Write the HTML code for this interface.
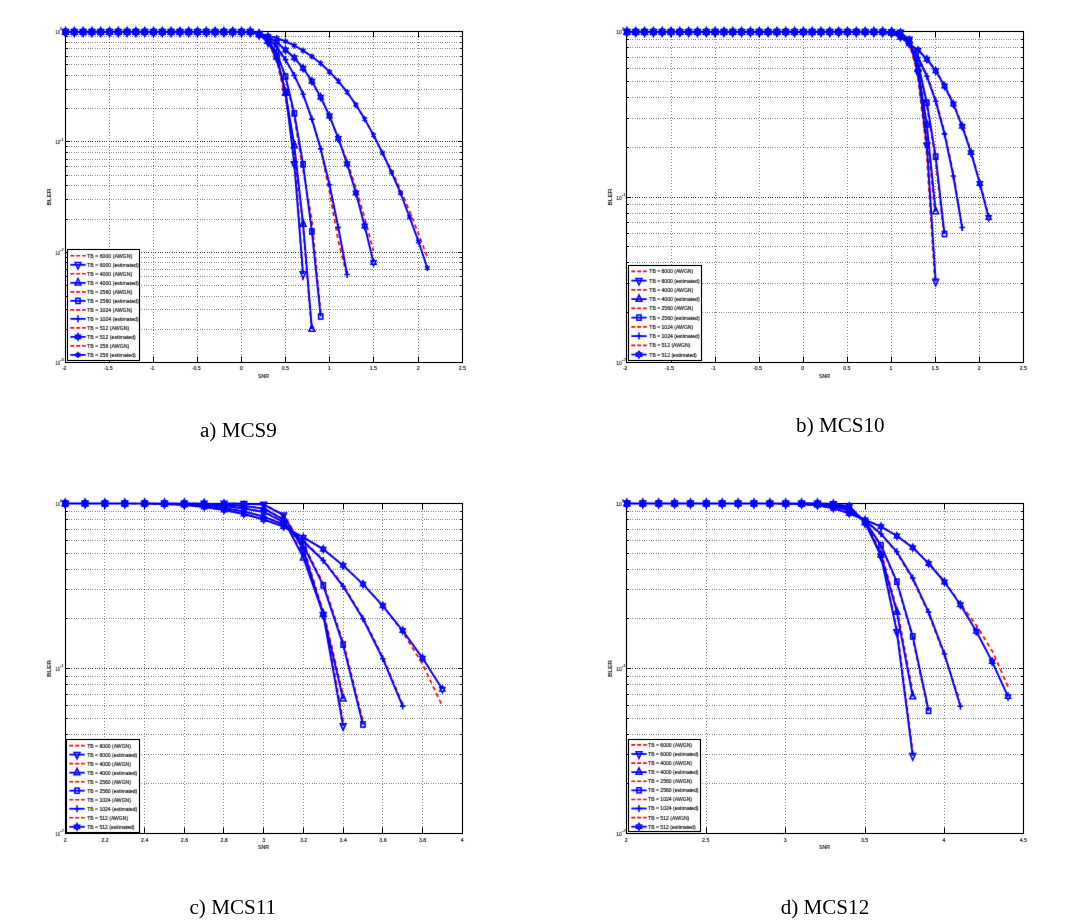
<!DOCTYPE html>
<html><head><meta charset="utf-8"><title>BLER curves</title>
<style>html,body{margin:0;padding:0;background:#fff}svg{display:block}</style></head><body>
<svg width="1072" height="922" viewBox="0 0 1072 922">
<defs><filter id="id" x="-5%" y="-20%" width="110%" height="140%"><feOffset dx="0" dy="0"/></filter><filter id="bl" x="-2%" y="-2%" width="104%" height="104%" color-interpolation-filters="sRGB"><feConvolveMatrix order="3" kernelMatrix="0.01 0.07 0.01 0.07 0.68 0.07 0.01 0.07 0.01" divisor="1" edgeMode="none" preserveAlpha="false"/></filter></defs>
<rect width="1072" height="922" fill="#fff"/>
<g>
<path d="M109.5 33V362.5M153.5 33V362.5M197.5 33V362.5M241.5 33V362.5M285.5 33V362.5M329.5 33V362.5M373.5 33V362.5M418.5 33V362.5" stroke="#000" stroke-opacity="0.42" stroke-width="1" stroke-dasharray="1 2" fill="none"/>
<path d="M67 108.5H462.5M67 89.5H462.5M67 75.5H462.5M67 64.5H462.5M67 56.5H462.5M67 48.5H462.5M67 42.5H462.5M67 36.5H462.5M67 219.5H462.5M67 199.5H462.5M67 185.5H462.5M67 175.5H462.5M67 166.5H462.5M67 159.5H462.5M67 152.5H462.5M67 146.5H462.5M67 329.5H462.5M67 309.5H462.5M67 296.5H462.5M67 285.5H462.5M67 276.5H462.5M67 269.5H462.5M67 262.5H462.5M67 257.5H462.5" stroke="#000" stroke-opacity="0.42" stroke-width="1" stroke-dasharray="1 1 1 1 1 2" fill="none"/>
<path d="M67 141.5H462.5M67 252.5H462.5" stroke="#000" stroke-opacity="0.72" stroke-width="1" stroke-dasharray="1 1 1 1 1 2" fill="none"/>
<rect x="65.5" y="31.5" width="397" height="331" fill="none" stroke="#000" stroke-width="1.15"/>
<path d="M65.5 362.5v-6M65.5 31.5v6M109.5 362.5v-6M109.5 31.5v6M153.5 362.5v-6M153.5 31.5v6M197.5 362.5v-6M197.5 31.5v6M241.5 362.5v-6M241.5 31.5v6M285.5 362.5v-6M285.5 31.5v6M329.5 362.5v-6M329.5 31.5v6M373.5 362.5v-6M373.5 31.5v6M418.5 362.5v-6M418.5 31.5v6M462.5 362.5v-6M462.5 31.5v6M65.5 31.5h4.5M462.5 31.5h-4.5M65.5 141.5h4.5M462.5 141.5h-4.5M65.5 108.5h2.2M462.5 108.5h-2.2M65.5 89.5h2.2M462.5 89.5h-2.2M65.5 75.5h2.2M462.5 75.5h-2.2M65.5 64.5h2.2M462.5 64.5h-2.2M65.5 56.5h2.2M462.5 56.5h-2.2M65.5 48.5h2.2M462.5 48.5h-2.2M65.5 42.5h2.2M462.5 42.5h-2.2M65.5 36.5h2.2M462.5 36.5h-2.2M65.5 252.5h4.5M462.5 252.5h-4.5M65.5 219.5h2.2M462.5 219.5h-2.2M65.5 199.5h2.2M462.5 199.5h-2.2M65.5 185.5h2.2M462.5 185.5h-2.2M65.5 175.5h2.2M462.5 175.5h-2.2M65.5 166.5h2.2M462.5 166.5h-2.2M65.5 159.5h2.2M462.5 159.5h-2.2M65.5 152.5h2.2M462.5 152.5h-2.2M65.5 146.5h2.2M462.5 146.5h-2.2M65.5 362.5h4.5M462.5 362.5h-4.5M65.5 329.5h2.2M462.5 329.5h-2.2M65.5 309.5h2.2M462.5 309.5h-2.2M65.5 296.5h2.2M462.5 296.5h-2.2M65.5 285.5h2.2M462.5 285.5h-2.2M65.5 276.5h2.2M462.5 276.5h-2.2M65.5 269.5h2.2M462.5 269.5h-2.2M65.5 262.5h2.2M462.5 262.5h-2.2M65.5 257.5h2.2M462.5 257.5h-2.2" stroke="#000" stroke-width="1" fill="none"/>
<g filter="url(#bl)">
<g font-family="'Liberation Sans', sans-serif" font-size="6.2" fill="#000" stroke="#000" stroke-width="0.15" text-anchor="middle">
<text transform="translate(64.2 369.7) scale(0.84 1)">-2</text>
<text transform="translate(108.2 369.7) scale(0.84 1)">-1.5</text>
<text transform="translate(152.2 369.7) scale(0.84 1)">-1</text>
<text transform="translate(196.2 369.7) scale(0.84 1)">-0.5</text>
<text transform="translate(241.3 369.7) scale(0.84 1)">0</text>
<text transform="translate(285.3 369.7) scale(0.84 1)">0.5</text>
<text transform="translate(329.3 369.7) scale(0.84 1)">1</text>
<text transform="translate(373.3 369.7) scale(0.84 1)">1.5</text>
<text transform="translate(418.3 369.7) scale(0.84 1)">2</text>
<text transform="translate(462.3 369.7) scale(0.84 1)">2.5</text>
<text transform="translate(263.5 377.6) scale(0.84 1)">SNR</text>
</g>
<g font-family="'Liberation Sans', sans-serif" fill="#000" stroke="#000" stroke-width="0.1">
<text x="59.9" y="34.1" font-size="5.4" text-anchor="end" textLength="4.3" lengthAdjust="spacingAndGlyphs">10</text>
<text x="60.1" y="30.3" font-size="3.6" textLength="2" lengthAdjust="spacingAndGlyphs">0</text>
<text x="59.9" y="144.43" font-size="5.4" text-anchor="end" textLength="4.3" lengthAdjust="spacingAndGlyphs">10</text>
<text x="60.1" y="140.63" font-size="3.6" textLength="3.6" lengthAdjust="spacingAndGlyphs">-1</text>
<text x="59.9" y="254.77" font-size="5.4" text-anchor="end" textLength="4.3" lengthAdjust="spacingAndGlyphs">10</text>
<text x="60.1" y="250.97" font-size="3.6" textLength="3.6" lengthAdjust="spacingAndGlyphs">-2</text>
<text x="59.9" y="365.1" font-size="5.4" text-anchor="end" textLength="4.3" lengthAdjust="spacingAndGlyphs">10</text>
<text x="60.1" y="361.3" font-size="3.6" textLength="3.6" lengthAdjust="spacingAndGlyphs">-3</text>
<text transform="translate(50.6 197) rotate(-90)" font-size="5.6" text-anchor="middle" textLength="17" lengthAdjust="spacingAndGlyphs">BLER</text>
</g>
</g>
<g filter="url(#bl)">
<polyline points="250.3,31.9 259.1,34.4 267.9,42 276.7,60.5 285.5,98.5 294.3,149 303.1,283" fill="none" stroke="#ff0000" stroke-width="1.7" stroke-dasharray="4.2 3.2"/>
<polyline points="250,31.9 258.8,34.3 267.6,41 276.4,56.8 285.2,93 294,145.5 302.8,224 311.6,329" fill="none" stroke="#ff0000" stroke-width="1.7" stroke-dasharray="4.2 3.2"/>
<polyline points="250.3,31.9 259.1,34.2 267.9,40 276.7,53 285.5,76.5 294.3,117.4 303.1,170.3 311.9,220.5 320.7,312.5" fill="none" stroke="#ff0000" stroke-width="1.7" stroke-dasharray="4.2 3.2"/>
<polyline points="250.3,31.9 259.1,34 267.9,38.2 276.7,47 285.5,59.6 294.3,75.4 303.1,94.2 311.9,119.1 320.7,148.9 329.5,192 338.3,241 347.1,276" fill="none" stroke="#ff0000" stroke-width="1.7" stroke-dasharray="4.2 3.2"/>
<polyline points="250.3,31.9 259.1,33.8 267.9,36.8 276.7,42.2 285.5,50 294.3,57.8 303.1,68.2 311.9,81.2 320.7,97.2 329.5,116 338.3,138.4 347.1,161 355.9,188 364.7,218 373.5,251" fill="none" stroke="#ff0000" stroke-width="1.7" stroke-dasharray="4.2 3.2"/>
<polyline points="250.3,31.9 259.1,33.6 267.9,35.6 276.7,38.1 285.5,41.4 294.3,45.5 303.1,50.6 311.9,56.5 320.7,63.4 329.5,71.8 338.3,81.2 347.1,92.2 355.9,104.8 364.7,119.1 373.5,135.1 382.5,153 391.5,170 400.5,189.5 409.5,211 418.5,234 427.3,257" fill="none" stroke="#ff0000" stroke-width="1.7" stroke-dasharray="4.2 3.2"/>
<polyline points="250.3,31.9 259.1,34.4 267.9,42 276.7,57.5 285.5,91.5 294.3,164 303.1,274" fill="none" stroke="#0000ff" stroke-width="1.95" stroke-linejoin="round"/>
<g fill="none" stroke="#0000ff" stroke-width="1.6">
<polygon points="62.6,29.7 68.4,29.7 65.5,36.2"/>
<polygon points="71.4,29.7 77.2,29.7 74.3,36.2"/>
<polygon points="80.2,29.7 86,29.7 83.1,36.2"/>
<polygon points="89,29.7 94.8,29.7 91.9,36.2"/>
<polygon points="97.8,29.7 103.6,29.7 100.7,36.2"/>
<polygon points="106.6,29.7 112.4,29.7 109.5,36.2"/>
<polygon points="115.4,29.7 121.2,29.7 118.3,36.2"/>
<polygon points="124.2,29.7 130,29.7 127.1,36.2"/>
<polygon points="133,29.7 138.8,29.7 135.9,36.2"/>
<polygon points="141.8,29.7 147.6,29.7 144.7,36.2"/>
<polygon points="150.6,29.7 156.4,29.7 153.5,36.2"/>
<polygon points="159.4,29.7 165.2,29.7 162.3,36.2"/>
<polygon points="168.2,29.7 174,29.7 171.1,36.2"/>
<polygon points="177,29.7 182.8,29.7 179.9,36.2"/>
<polygon points="185.8,29.7 191.6,29.7 188.7,36.2"/>
<polygon points="194.6,29.7 200.4,29.7 197.5,36.2"/>
<polygon points="203.4,29.7 209.2,29.7 206.3,36.2"/>
<polygon points="212.2,29.7 218,29.7 215.1,36.2"/>
<polygon points="221,29.7 226.8,29.7 223.9,36.2"/>
<polygon points="229.8,29.7 235.6,29.7 232.7,36.2"/>
<polygon points="238.6,29.7 244.4,29.7 241.5,36.2"/>
<polygon points="247.4,29.7 253.2,29.7 250.3,36.2"/>
<polygon points="256.2,32.2 262,32.2 259.1,38.7"/>
<polygon points="265,39.8 270.8,39.8 267.9,46.3"/>
<polygon points="273.8,55.3 279.6,55.3 276.7,61.8"/>
<polygon points="282.6,89.3 288.4,89.3 285.5,95.8"/>
<polygon points="291.4,161.8 297.2,161.8 294.3,168.3"/>
<polygon points="300.2,271.8 306,271.8 303.1,278.3"/>
</g>
<polyline points="250.3,31.9 259.1,34.3 267.9,41 276.7,56.8 285.5,93 294.3,145.5 303.1,224 311.9,329" fill="none" stroke="#0000ff" stroke-width="1.95" stroke-linejoin="round"/>
<g fill="none" stroke="#0000ff" stroke-width="1.6">
<polygon points="62.6,34.1 68.4,34.1 65.5,27.6"/>
<polygon points="71.4,34.1 77.2,34.1 74.3,27.6"/>
<polygon points="80.2,34.1 86,34.1 83.1,27.6"/>
<polygon points="89,34.1 94.8,34.1 91.9,27.6"/>
<polygon points="97.8,34.1 103.6,34.1 100.7,27.6"/>
<polygon points="106.6,34.1 112.4,34.1 109.5,27.6"/>
<polygon points="115.4,34.1 121.2,34.1 118.3,27.6"/>
<polygon points="124.2,34.1 130,34.1 127.1,27.6"/>
<polygon points="133,34.1 138.8,34.1 135.9,27.6"/>
<polygon points="141.8,34.1 147.6,34.1 144.7,27.6"/>
<polygon points="150.6,34.1 156.4,34.1 153.5,27.6"/>
<polygon points="159.4,34.1 165.2,34.1 162.3,27.6"/>
<polygon points="168.2,34.1 174,34.1 171.1,27.6"/>
<polygon points="177,34.1 182.8,34.1 179.9,27.6"/>
<polygon points="185.8,34.1 191.6,34.1 188.7,27.6"/>
<polygon points="194.6,34.1 200.4,34.1 197.5,27.6"/>
<polygon points="203.4,34.1 209.2,34.1 206.3,27.6"/>
<polygon points="212.2,34.1 218,34.1 215.1,27.6"/>
<polygon points="221,34.1 226.8,34.1 223.9,27.6"/>
<polygon points="229.8,34.1 235.6,34.1 232.7,27.6"/>
<polygon points="238.6,34.1 244.4,34.1 241.5,27.6"/>
<polygon points="247.4,34.1 253.2,34.1 250.3,27.6"/>
<polygon points="256.2,36.5 262,36.5 259.1,30"/>
<polygon points="265,43.2 270.8,43.2 267.9,36.7"/>
<polygon points="273.8,59 279.6,59 276.7,52.5"/>
<polygon points="282.6,95.2 288.4,95.2 285.5,88.7"/>
<polygon points="291.4,147.7 297.2,147.7 294.3,141.2"/>
<polygon points="300.2,226.2 306,226.2 303.1,219.7"/>
<polygon points="309,331.2 314.8,331.2 311.9,324.7"/>
</g>
<polyline points="250.3,31.9 259.1,34.2 267.9,40 276.7,53 285.5,76.5 294.3,113.4 303.1,164.3 311.9,231.5 320.7,316.5" fill="none" stroke="#0000ff" stroke-width="1.95" stroke-linejoin="round"/>
<g fill="none" stroke="#0000ff" stroke-width="1.6">
<rect x="63.4" y="29.3" width="4.2" height="5.2"/>
<rect x="72.2" y="29.3" width="4.2" height="5.2"/>
<rect x="81" y="29.3" width="4.2" height="5.2"/>
<rect x="89.8" y="29.3" width="4.2" height="5.2"/>
<rect x="98.6" y="29.3" width="4.2" height="5.2"/>
<rect x="107.4" y="29.3" width="4.2" height="5.2"/>
<rect x="116.2" y="29.3" width="4.2" height="5.2"/>
<rect x="125" y="29.3" width="4.2" height="5.2"/>
<rect x="133.8" y="29.3" width="4.2" height="5.2"/>
<rect x="142.6" y="29.3" width="4.2" height="5.2"/>
<rect x="151.4" y="29.3" width="4.2" height="5.2"/>
<rect x="160.2" y="29.3" width="4.2" height="5.2"/>
<rect x="169" y="29.3" width="4.2" height="5.2"/>
<rect x="177.8" y="29.3" width="4.2" height="5.2"/>
<rect x="186.6" y="29.3" width="4.2" height="5.2"/>
<rect x="195.4" y="29.3" width="4.2" height="5.2"/>
<rect x="204.2" y="29.3" width="4.2" height="5.2"/>
<rect x="213" y="29.3" width="4.2" height="5.2"/>
<rect x="221.8" y="29.3" width="4.2" height="5.2"/>
<rect x="230.6" y="29.3" width="4.2" height="5.2"/>
<rect x="239.4" y="29.3" width="4.2" height="5.2"/>
<rect x="248.2" y="29.3" width="4.2" height="5.2"/>
<rect x="257" y="31.6" width="4.2" height="5.2"/>
<rect x="265.8" y="37.4" width="4.2" height="5.2"/>
<rect x="274.6" y="50.4" width="4.2" height="5.2"/>
<rect x="283.4" y="73.9" width="4.2" height="5.2"/>
<rect x="292.2" y="110.8" width="4.2" height="5.2"/>
<rect x="301" y="161.7" width="4.2" height="5.2"/>
<rect x="309.8" y="228.9" width="4.2" height="5.2"/>
<rect x="318.6" y="313.9" width="4.2" height="5.2"/>
</g>
<polyline points="250.3,31.9 259.1,34 267.9,38.2 276.7,47 285.5,59.6 294.3,75.4 303.1,94.2 311.9,119.1 320.7,148.9 329.5,184.8 338.3,227.5 347.1,274.5" fill="none" stroke="#0000ff" stroke-width="1.95" stroke-linejoin="round"/>
<g fill="none" stroke="#0000ff" stroke-width="1.6">
<path d="M62.7 31.9H68.3M65.5 28.4V35.4"/>
<path d="M71.5 31.9H77.1M74.3 28.4V35.4"/>
<path d="M80.3 31.9H85.9M83.1 28.4V35.4"/>
<path d="M89.1 31.9H94.7M91.9 28.4V35.4"/>
<path d="M97.9 31.9H103.5M100.7 28.4V35.4"/>
<path d="M106.7 31.9H112.3M109.5 28.4V35.4"/>
<path d="M115.5 31.9H121.1M118.3 28.4V35.4"/>
<path d="M124.3 31.9H129.9M127.1 28.4V35.4"/>
<path d="M133.1 31.9H138.7M135.9 28.4V35.4"/>
<path d="M141.9 31.9H147.5M144.7 28.4V35.4"/>
<path d="M150.7 31.9H156.3M153.5 28.4V35.4"/>
<path d="M159.5 31.9H165.1M162.3 28.4V35.4"/>
<path d="M168.3 31.9H173.9M171.1 28.4V35.4"/>
<path d="M177.1 31.9H182.7M179.9 28.4V35.4"/>
<path d="M185.9 31.9H191.5M188.7 28.4V35.4"/>
<path d="M194.7 31.9H200.3M197.5 28.4V35.4"/>
<path d="M203.5 31.9H209.1M206.3 28.4V35.4"/>
<path d="M212.3 31.9H217.9M215.1 28.4V35.4"/>
<path d="M221.1 31.9H226.7M223.9 28.4V35.4"/>
<path d="M229.9 31.9H235.5M232.7 28.4V35.4"/>
<path d="M238.7 31.9H244.3M241.5 28.4V35.4"/>
<path d="M247.5 31.9H253.1M250.3 28.4V35.4"/>
<path d="M256.3 34H261.9M259.1 30.5V37.5"/>
<path d="M265.1 38.2H270.7M267.9 34.7V41.7"/>
<path d="M273.9 47H279.5M276.7 43.5V50.5"/>
<path d="M282.7 59.6H288.3M285.5 56.1V63.1"/>
<path d="M291.5 75.4H297.1M294.3 71.9V78.9"/>
<path d="M300.3 94.2H305.9M303.1 90.7V97.7"/>
<path d="M309.1 119.1H314.7M311.9 115.6V122.6"/>
<path d="M317.9 148.9H323.5M320.7 145.4V152.4"/>
<path d="M326.7 184.8H332.3M329.5 181.3V188.3"/>
<path d="M335.5 227.5H341.1M338.3 224V231"/>
<path d="M344.3 274.5H349.9M347.1 271V278"/>
</g>
<polyline points="250.3,31.9 259.1,33.8 267.9,36.8 276.7,42.2 285.5,50 294.3,57.8 303.1,68.2 311.9,81.2 320.7,97.2 329.5,116 338.3,138.4 347.1,163.8 355.9,193 364.7,226 373.5,262.5" fill="none" stroke="#0000ff" stroke-width="1.95" stroke-linejoin="round"/>
<g fill="none" stroke="#0000ff" stroke-width="1.6">
<polygon points="65.5,28.6 64.67,30.25 63.01,30.25 63.84,31.9 63.01,33.55 64.67,33.55 65.5,35.2 66.33,33.55 67.99,33.55 67.16,31.9 67.99,30.25 66.33,30.25"/>
<polygon points="74.3,28.6 73.47,30.25 71.81,30.25 72.64,31.9 71.81,33.55 73.47,33.55 74.3,35.2 75.13,33.55 76.79,33.55 75.96,31.9 76.79,30.25 75.13,30.25"/>
<polygon points="83.1,28.6 82.27,30.25 80.61,30.25 81.44,31.9 80.61,33.55 82.27,33.55 83.1,35.2 83.93,33.55 85.59,33.55 84.76,31.9 85.59,30.25 83.93,30.25"/>
<polygon points="91.9,28.6 91.07,30.25 89.41,30.25 90.24,31.9 89.41,33.55 91.07,33.55 91.9,35.2 92.73,33.55 94.39,33.55 93.56,31.9 94.39,30.25 92.73,30.25"/>
<polygon points="100.7,28.6 99.87,30.25 98.21,30.25 99.04,31.9 98.21,33.55 99.87,33.55 100.7,35.2 101.53,33.55 103.19,33.55 102.36,31.9 103.19,30.25 101.53,30.25"/>
<polygon points="109.5,28.6 108.67,30.25 107.01,30.25 107.84,31.9 107.01,33.55 108.67,33.55 109.5,35.2 110.33,33.55 111.99,33.55 111.16,31.9 111.99,30.25 110.33,30.25"/>
<polygon points="118.3,28.6 117.47,30.25 115.81,30.25 116.64,31.9 115.81,33.55 117.47,33.55 118.3,35.2 119.13,33.55 120.79,33.55 119.96,31.9 120.79,30.25 119.13,30.25"/>
<polygon points="127.1,28.6 126.27,30.25 124.61,30.25 125.44,31.9 124.61,33.55 126.27,33.55 127.1,35.2 127.93,33.55 129.59,33.55 128.76,31.9 129.59,30.25 127.93,30.25"/>
<polygon points="135.9,28.6 135.07,30.25 133.41,30.25 134.24,31.9 133.41,33.55 135.07,33.55 135.9,35.2 136.73,33.55 138.39,33.55 137.56,31.9 138.39,30.25 136.73,30.25"/>
<polygon points="144.7,28.6 143.87,30.25 142.21,30.25 143.04,31.9 142.21,33.55 143.87,33.55 144.7,35.2 145.53,33.55 147.19,33.55 146.36,31.9 147.19,30.25 145.53,30.25"/>
<polygon points="153.5,28.6 152.67,30.25 151.01,30.25 151.84,31.9 151.01,33.55 152.67,33.55 153.5,35.2 154.33,33.55 155.99,33.55 155.16,31.9 155.99,30.25 154.33,30.25"/>
<polygon points="162.3,28.6 161.47,30.25 159.81,30.25 160.64,31.9 159.81,33.55 161.47,33.55 162.3,35.2 163.13,33.55 164.79,33.55 163.96,31.9 164.79,30.25 163.13,30.25"/>
<polygon points="171.1,28.6 170.27,30.25 168.61,30.25 169.44,31.9 168.61,33.55 170.27,33.55 171.1,35.2 171.93,33.55 173.59,33.55 172.76,31.9 173.59,30.25 171.93,30.25"/>
<polygon points="179.9,28.6 179.07,30.25 177.41,30.25 178.24,31.9 177.41,33.55 179.07,33.55 179.9,35.2 180.73,33.55 182.39,33.55 181.56,31.9 182.39,30.25 180.73,30.25"/>
<polygon points="188.7,28.6 187.87,30.25 186.21,30.25 187.04,31.9 186.21,33.55 187.87,33.55 188.7,35.2 189.53,33.55 191.19,33.55 190.36,31.9 191.19,30.25 189.53,30.25"/>
<polygon points="197.5,28.6 196.67,30.25 195.01,30.25 195.84,31.9 195.01,33.55 196.67,33.55 197.5,35.2 198.33,33.55 199.99,33.55 199.16,31.9 199.99,30.25 198.33,30.25"/>
<polygon points="206.3,28.6 205.47,30.25 203.81,30.25 204.64,31.9 203.81,33.55 205.47,33.55 206.3,35.2 207.13,33.55 208.79,33.55 207.96,31.9 208.79,30.25 207.13,30.25"/>
<polygon points="215.1,28.6 214.27,30.25 212.61,30.25 213.44,31.9 212.61,33.55 214.27,33.55 215.1,35.2 215.93,33.55 217.59,33.55 216.76,31.9 217.59,30.25 215.93,30.25"/>
<polygon points="223.9,28.6 223.07,30.25 221.41,30.25 222.24,31.9 221.41,33.55 223.07,33.55 223.9,35.2 224.73,33.55 226.39,33.55 225.56,31.9 226.39,30.25 224.73,30.25"/>
<polygon points="232.7,28.6 231.87,30.25 230.21,30.25 231.04,31.9 230.21,33.55 231.87,33.55 232.7,35.2 233.53,33.55 235.19,33.55 234.36,31.9 235.19,30.25 233.53,30.25"/>
<polygon points="241.5,28.6 240.67,30.25 239.01,30.25 239.84,31.9 239.01,33.55 240.67,33.55 241.5,35.2 242.33,33.55 243.99,33.55 243.16,31.9 243.99,30.25 242.33,30.25"/>
<polygon points="250.3,28.6 249.47,30.25 247.81,30.25 248.64,31.9 247.81,33.55 249.47,33.55 250.3,35.2 251.13,33.55 252.79,33.55 251.96,31.9 252.79,30.25 251.13,30.25"/>
<polygon points="259.1,30.5 258.27,32.15 256.61,32.15 257.44,33.8 256.61,35.45 258.27,35.45 259.1,37.1 259.93,35.45 261.59,35.45 260.76,33.8 261.59,32.15 259.93,32.15"/>
<polygon points="267.9,33.5 267.07,35.15 265.41,35.15 266.24,36.8 265.41,38.45 267.07,38.45 267.9,40.1 268.73,38.45 270.39,38.45 269.56,36.8 270.39,35.15 268.73,35.15"/>
<polygon points="276.7,38.9 275.87,40.55 274.21,40.55 275.04,42.2 274.21,43.85 275.87,43.85 276.7,45.5 277.53,43.85 279.19,43.85 278.36,42.2 279.19,40.55 277.53,40.55"/>
<polygon points="285.5,46.7 284.67,48.35 283.01,48.35 283.84,50 283.01,51.65 284.67,51.65 285.5,53.3 286.33,51.65 287.99,51.65 287.16,50 287.99,48.35 286.33,48.35"/>
<polygon points="294.3,54.5 293.47,56.15 291.81,56.15 292.64,57.8 291.81,59.45 293.47,59.45 294.3,61.1 295.13,59.45 296.79,59.45 295.96,57.8 296.79,56.15 295.13,56.15"/>
<polygon points="303.1,64.9 302.27,66.55 300.61,66.55 301.44,68.2 300.61,69.85 302.27,69.85 303.1,71.5 303.93,69.85 305.59,69.85 304.76,68.2 305.59,66.55 303.93,66.55"/>
<polygon points="311.9,77.9 311.07,79.55 309.41,79.55 310.24,81.2 309.41,82.85 311.07,82.85 311.9,84.5 312.73,82.85 314.39,82.85 313.56,81.2 314.39,79.55 312.73,79.55"/>
<polygon points="320.7,93.9 319.87,95.55 318.21,95.55 319.04,97.2 318.21,98.85 319.87,98.85 320.7,100.5 321.53,98.85 323.19,98.85 322.36,97.2 323.19,95.55 321.53,95.55"/>
<polygon points="329.5,112.7 328.67,114.35 327.01,114.35 327.84,116 327.01,117.65 328.67,117.65 329.5,119.3 330.33,117.65 331.99,117.65 331.16,116 331.99,114.35 330.33,114.35"/>
<polygon points="338.3,135.1 337.47,136.75 335.81,136.75 336.64,138.4 335.81,140.05 337.47,140.05 338.3,141.7 339.13,140.05 340.79,140.05 339.96,138.4 340.79,136.75 339.13,136.75"/>
<polygon points="347.1,160.5 346.27,162.15 344.61,162.15 345.44,163.8 344.61,165.45 346.27,165.45 347.1,167.1 347.93,165.45 349.59,165.45 348.76,163.8 349.59,162.15 347.93,162.15"/>
<polygon points="355.9,189.7 355.07,191.35 353.41,191.35 354.24,193 353.41,194.65 355.07,194.65 355.9,196.3 356.73,194.65 358.39,194.65 357.56,193 358.39,191.35 356.73,191.35"/>
<polygon points="364.7,222.7 363.87,224.35 362.21,224.35 363.04,226 362.21,227.65 363.87,227.65 364.7,229.3 365.53,227.65 367.19,227.65 366.36,226 367.19,224.35 365.53,224.35"/>
<polygon points="373.5,259.2 372.67,260.85 371.01,260.85 371.84,262.5 371.01,264.15 372.67,264.15 373.5,265.8 374.33,264.15 375.99,264.15 375.16,262.5 375.99,260.85 374.33,260.85"/>
</g>
<polyline points="65.5,31.9 74.3,31.9 83.1,31.9 91.9,31.9 100.7,31.9 109.5,31.9 118.3,31.9 127.1,31.9 135.9,31.9 144.7,31.9 153.5,31.9 162.3,31.9 171.1,31.9 179.9,31.9 188.7,31.9 197.5,31.9 206.3,31.9 215.1,31.9 223.9,31.9 232.7,31.9 241.5,31.9 250.3,31.9 259.1,33.6 267.9,35.6 276.7,38.1 285.5,41.4 294.3,45.5 303.1,50.6 311.9,56.5 320.7,63.4 329.5,71.8 338.3,81.2 347.1,92.2 355.9,104.8 364.7,119.1 373.5,135.1 382.5,153 391.5,172.3 400.5,193 409.5,217 418.5,241.5 427.3,268" fill="none" stroke="#0000ff" stroke-width="1.95" stroke-linejoin="round"/>
<g fill="none" stroke="#0000ff" stroke-width="1.6">
<path d="M65.5 28.8L65.5 35M67.92 30.35L63.08 33.45M67.92 33.45L63.08 30.35" stroke-width="1.5"/><circle cx="65.5" cy="31.9" r="1.3" fill="#0000ff" stroke="none"/>
<path d="M74.3 28.8L74.3 35M76.72 30.35L71.88 33.45M76.72 33.45L71.88 30.35" stroke-width="1.5"/><circle cx="74.3" cy="31.9" r="1.3" fill="#0000ff" stroke="none"/>
<path d="M83.1 28.8L83.1 35M85.52 30.35L80.68 33.45M85.52 33.45L80.68 30.35" stroke-width="1.5"/><circle cx="83.1" cy="31.9" r="1.3" fill="#0000ff" stroke="none"/>
<path d="M91.9 28.8L91.9 35M94.32 30.35L89.48 33.45M94.32 33.45L89.48 30.35" stroke-width="1.5"/><circle cx="91.9" cy="31.9" r="1.3" fill="#0000ff" stroke="none"/>
<path d="M100.7 28.8L100.7 35M103.12 30.35L98.28 33.45M103.12 33.45L98.28 30.35" stroke-width="1.5"/><circle cx="100.7" cy="31.9" r="1.3" fill="#0000ff" stroke="none"/>
<path d="M109.5 28.8L109.5 35M111.92 30.35L107.08 33.45M111.92 33.45L107.08 30.35" stroke-width="1.5"/><circle cx="109.5" cy="31.9" r="1.3" fill="#0000ff" stroke="none"/>
<path d="M118.3 28.8L118.3 35M120.72 30.35L115.88 33.45M120.72 33.45L115.88 30.35" stroke-width="1.5"/><circle cx="118.3" cy="31.9" r="1.3" fill="#0000ff" stroke="none"/>
<path d="M127.1 28.8L127.1 35M129.52 30.35L124.68 33.45M129.52 33.45L124.68 30.35" stroke-width="1.5"/><circle cx="127.1" cy="31.9" r="1.3" fill="#0000ff" stroke="none"/>
<path d="M135.9 28.8L135.9 35M138.32 30.35L133.48 33.45M138.32 33.45L133.48 30.35" stroke-width="1.5"/><circle cx="135.9" cy="31.9" r="1.3" fill="#0000ff" stroke="none"/>
<path d="M144.7 28.8L144.7 35M147.12 30.35L142.28 33.45M147.12 33.45L142.28 30.35" stroke-width="1.5"/><circle cx="144.7" cy="31.9" r="1.3" fill="#0000ff" stroke="none"/>
<path d="M153.5 28.8L153.5 35M155.92 30.35L151.08 33.45M155.92 33.45L151.08 30.35" stroke-width="1.5"/><circle cx="153.5" cy="31.9" r="1.3" fill="#0000ff" stroke="none"/>
<path d="M162.3 28.8L162.3 35M164.72 30.35L159.88 33.45M164.72 33.45L159.88 30.35" stroke-width="1.5"/><circle cx="162.3" cy="31.9" r="1.3" fill="#0000ff" stroke="none"/>
<path d="M171.1 28.8L171.1 35M173.52 30.35L168.68 33.45M173.52 33.45L168.68 30.35" stroke-width="1.5"/><circle cx="171.1" cy="31.9" r="1.3" fill="#0000ff" stroke="none"/>
<path d="M179.9 28.8L179.9 35M182.32 30.35L177.48 33.45M182.32 33.45L177.48 30.35" stroke-width="1.5"/><circle cx="179.9" cy="31.9" r="1.3" fill="#0000ff" stroke="none"/>
<path d="M188.7 28.8L188.7 35M191.12 30.35L186.28 33.45M191.12 33.45L186.28 30.35" stroke-width="1.5"/><circle cx="188.7" cy="31.9" r="1.3" fill="#0000ff" stroke="none"/>
<path d="M197.5 28.8L197.5 35M199.92 30.35L195.08 33.45M199.92 33.45L195.08 30.35" stroke-width="1.5"/><circle cx="197.5" cy="31.9" r="1.3" fill="#0000ff" stroke="none"/>
<path d="M206.3 28.8L206.3 35M208.72 30.35L203.88 33.45M208.72 33.45L203.88 30.35" stroke-width="1.5"/><circle cx="206.3" cy="31.9" r="1.3" fill="#0000ff" stroke="none"/>
<path d="M215.1 28.8L215.1 35M217.52 30.35L212.68 33.45M217.52 33.45L212.68 30.35" stroke-width="1.5"/><circle cx="215.1" cy="31.9" r="1.3" fill="#0000ff" stroke="none"/>
<path d="M223.9 28.8L223.9 35M226.32 30.35L221.48 33.45M226.32 33.45L221.48 30.35" stroke-width="1.5"/><circle cx="223.9" cy="31.9" r="1.3" fill="#0000ff" stroke="none"/>
<path d="M232.7 28.8L232.7 35M235.12 30.35L230.28 33.45M235.12 33.45L230.28 30.35" stroke-width="1.5"/><circle cx="232.7" cy="31.9" r="1.3" fill="#0000ff" stroke="none"/>
<path d="M241.5 28.8L241.5 35M243.92 30.35L239.08 33.45M243.92 33.45L239.08 30.35" stroke-width="1.5"/><circle cx="241.5" cy="31.9" r="1.3" fill="#0000ff" stroke="none"/>
<path d="M250.3 28.8L250.3 35M252.72 30.35L247.88 33.45M252.72 33.45L247.88 30.35" stroke-width="1.5"/><circle cx="250.3" cy="31.9" r="1.3" fill="#0000ff" stroke="none"/>
<path d="M259.1 30.5L259.1 36.7M261.52 32.05L256.68 35.15M261.52 35.15L256.68 32.05" stroke-width="1.5"/><circle cx="259.1" cy="33.6" r="1.3" fill="#0000ff" stroke="none"/>
<path d="M267.9 32.5L267.9 38.7M270.32 34.05L265.48 37.15M270.32 37.15L265.48 34.05" stroke-width="1.5"/><circle cx="267.9" cy="35.6" r="1.3" fill="#0000ff" stroke="none"/>
<path d="M276.7 35L276.7 41.2M279.12 36.55L274.28 39.65M279.12 39.65L274.28 36.55" stroke-width="1.5"/><circle cx="276.7" cy="38.1" r="1.3" fill="#0000ff" stroke="none"/>
<path d="M285.5 38.3L285.5 44.5M287.92 39.85L283.08 42.95M287.92 42.95L283.08 39.85" stroke-width="1.5"/><circle cx="285.5" cy="41.4" r="1.3" fill="#0000ff" stroke="none"/>
<path d="M294.3 42.4L294.3 48.6M296.72 43.95L291.88 47.05M296.72 47.05L291.88 43.95" stroke-width="1.5"/><circle cx="294.3" cy="45.5" r="1.3" fill="#0000ff" stroke="none"/>
<path d="M303.1 47.5L303.1 53.7M305.52 49.05L300.68 52.15M305.52 52.15L300.68 49.05" stroke-width="1.5"/><circle cx="303.1" cy="50.6" r="1.3" fill="#0000ff" stroke="none"/>
<path d="M311.9 53.4L311.9 59.6M314.32 54.95L309.48 58.05M314.32 58.05L309.48 54.95" stroke-width="1.5"/><circle cx="311.9" cy="56.5" r="1.3" fill="#0000ff" stroke="none"/>
<path d="M320.7 60.3L320.7 66.5M323.12 61.85L318.28 64.95M323.12 64.95L318.28 61.85" stroke-width="1.5"/><circle cx="320.7" cy="63.4" r="1.3" fill="#0000ff" stroke="none"/>
<path d="M329.5 68.7L329.5 74.9M331.92 70.25L327.08 73.35M331.92 73.35L327.08 70.25" stroke-width="1.5"/><circle cx="329.5" cy="71.8" r="1.3" fill="#0000ff" stroke="none"/>
<path d="M338.3 78.1L338.3 84.3M340.72 79.65L335.88 82.75M340.72 82.75L335.88 79.65" stroke-width="1.5"/><circle cx="338.3" cy="81.2" r="1.3" fill="#0000ff" stroke="none"/>
<path d="M347.1 89.1L347.1 95.3M349.52 90.65L344.68 93.75M349.52 93.75L344.68 90.65" stroke-width="1.5"/><circle cx="347.1" cy="92.2" r="1.3" fill="#0000ff" stroke="none"/>
<path d="M355.9 101.7L355.9 107.9M358.32 103.25L353.48 106.35M358.32 106.35L353.48 103.25" stroke-width="1.5"/><circle cx="355.9" cy="104.8" r="1.3" fill="#0000ff" stroke="none"/>
<path d="M364.7 116L364.7 122.2M367.12 117.55L362.28 120.65M367.12 120.65L362.28 117.55" stroke-width="1.5"/><circle cx="364.7" cy="119.1" r="1.3" fill="#0000ff" stroke="none"/>
<path d="M373.5 132L373.5 138.2M375.92 133.55L371.08 136.65M375.92 136.65L371.08 133.55" stroke-width="1.5"/><circle cx="373.5" cy="135.1" r="1.3" fill="#0000ff" stroke="none"/>
<path d="M382.5 149.9L382.5 156.1M384.92 151.45L380.08 154.55M384.92 154.55L380.08 151.45" stroke-width="1.5"/><circle cx="382.5" cy="153" r="1.3" fill="#0000ff" stroke="none"/>
<path d="M391.5 169.2L391.5 175.4M393.92 170.75L389.08 173.85M393.92 173.85L389.08 170.75" stroke-width="1.5"/><circle cx="391.5" cy="172.3" r="1.3" fill="#0000ff" stroke="none"/>
<path d="M400.5 189.9L400.5 196.1M402.92 191.45L398.08 194.55M402.92 194.55L398.08 191.45" stroke-width="1.5"/><circle cx="400.5" cy="193" r="1.3" fill="#0000ff" stroke="none"/>
<path d="M409.5 213.9L409.5 220.1M411.92 215.45L407.08 218.55M411.92 218.55L407.08 215.45" stroke-width="1.5"/><circle cx="409.5" cy="217" r="1.3" fill="#0000ff" stroke="none"/>
<path d="M418.5 238.4L418.5 244.6M420.92 239.95L416.08 243.05M420.92 243.05L416.08 239.95" stroke-width="1.5"/><circle cx="418.5" cy="241.5" r="1.3" fill="#0000ff" stroke="none"/>
<path d="M427.3 264.9L427.3 271.1M429.72 266.45L424.88 269.55M429.72 269.55L424.88 266.45" stroke-width="1.5"/><circle cx="427.3" cy="268" r="1.3" fill="#0000ff" stroke="none"/>
</g>
</g>
<rect x="67.5" y="249.5" width="72" height="111" fill="#fff" stroke="#000" stroke-width="1.15"/>
<g filter="url(#bl)">
<g font-family="'Liberation Sans', sans-serif" font-size="6.2" fill="#000" stroke="#000" stroke-width="0.15">
<path d="M70.3 255.8H85.7" stroke="#ff0000" stroke-width="1.6" stroke-dasharray="3.9 2" fill="none"/>
<text transform="translate(87.1 257.7) scale(0.839 1)">TB = 6000 (AWGN)</text>
<path d="M70.3 264.81H85.7" stroke="#0000ff" stroke-width="1.8" fill="none"/>
<g fill="none" stroke="#0000ff" stroke-width="1.5"><polygon points="75.1,262.61 80.9,262.61 78,269.11"/></g>
<text transform="translate(87.1 266.71) scale(0.839 1)">TB = 6000 (estimated)</text>
<path d="M70.3 273.82H85.7" stroke="#ff0000" stroke-width="1.6" stroke-dasharray="3.9 2" fill="none"/>
<text transform="translate(87.1 275.72) scale(0.839 1)">TB = 4000 (AWGN)</text>
<path d="M70.3 282.83H85.7" stroke="#0000ff" stroke-width="1.8" fill="none"/>
<g fill="none" stroke="#0000ff" stroke-width="1.5"><polygon points="75.1,285.03 80.9,285.03 78,278.53"/></g>
<text transform="translate(87.1 284.73) scale(0.839 1)">TB = 4000 (estimated)</text>
<path d="M70.3 291.84H85.7" stroke="#ff0000" stroke-width="1.6" stroke-dasharray="3.9 2" fill="none"/>
<text transform="translate(87.1 293.74) scale(0.839 1)">TB = 2560 (AWGN)</text>
<path d="M70.3 300.85H85.7" stroke="#0000ff" stroke-width="1.8" fill="none"/>
<g fill="none" stroke="#0000ff" stroke-width="1.5"><rect x="75.9" y="298.25" width="4.2" height="5.2"/></g>
<text transform="translate(87.1 302.75) scale(0.839 1)">TB = 2560 (estimated)</text>
<path d="M70.3 309.85H85.7" stroke="#ff0000" stroke-width="1.6" stroke-dasharray="3.9 2" fill="none"/>
<text transform="translate(87.1 311.75) scale(0.839 1)">TB = 1024 (AWGN)</text>
<path d="M70.3 318.86H85.7" stroke="#0000ff" stroke-width="1.8" fill="none"/>
<g fill="none" stroke="#0000ff" stroke-width="1.5"><path d="M75.2 318.86H80.8M78 315.36V322.36"/></g>
<text transform="translate(87.1 320.76) scale(0.839 1)">TB = 1024 (estimated)</text>
<path d="M70.3 327.87H85.7" stroke="#ff0000" stroke-width="1.6" stroke-dasharray="3.9 2" fill="none"/>
<text transform="translate(87.1 329.77) scale(0.839 1)">TB = 512 (AWGN)</text>
<path d="M70.3 336.88H85.7" stroke="#0000ff" stroke-width="1.8" fill="none"/>
<g fill="none" stroke="#0000ff" stroke-width="1.5"><polygon points="78,333.58 77.17,335.23 75.51,335.23 76.34,336.88 75.51,338.53 77.17,338.53 78,340.18 78.83,338.53 80.49,338.53 79.66,336.88 80.49,335.23 78.83,335.23"/></g>
<text transform="translate(87.1 338.78) scale(0.839 1)">TB = 512 (estimated)</text>
<path d="M70.3 345.89H85.7" stroke="#ff0000" stroke-width="1.6" stroke-dasharray="3.9 2" fill="none"/>
<text transform="translate(87.1 347.79) scale(0.839 1)">TB = 256 (AWGN)</text>
<path d="M70.3 354.9H85.7" stroke="#0000ff" stroke-width="1.8" fill="none"/>
<g fill="none" stroke="#0000ff" stroke-width="1.5"><path d="M78 351.8L78 358M80.42 353.35L75.58 356.45M80.42 356.45L75.58 353.35" stroke-width="1.5"/><circle cx="78" cy="354.9" r="1.3" fill="#0000ff" stroke="none"/></g>
<text transform="translate(87.1 356.8) scale(0.839 1)">TB = 256 (estimated)</text>
</g>
</g>
</g>
<g>
<path d="M671.5 33V362.5M715.5 33V362.5M759.5 33V362.5M803.5 33V362.5M847.5 33V362.5M891.5 33V362.5M935.5 33V362.5M979.5 33V362.5" stroke="#000" stroke-opacity="0.42" stroke-width="1" stroke-dasharray="1 2" fill="none"/>
<path d="M628 147.5H1023.5M628 118.5H1023.5M628 97.5H1023.5M628 81.5H1023.5M628 68.5H1023.5M628 57.5H1023.5M628 47.5H1023.5M628 39.5H1023.5M628 312.5H1023.5M628 283.5H1023.5M628 262.5H1023.5M628 246.5H1023.5M628 233.5H1023.5M628 222.5H1023.5M628 213.5H1023.5M628 204.5H1023.5" stroke="#000" stroke-opacity="0.42" stroke-width="1" stroke-dasharray="1 1 1 1 1 2" fill="none"/>
<path d="M628 197.5H1023.5" stroke="#000" stroke-opacity="0.72" stroke-width="1" stroke-dasharray="1 1 1 1 1 2" fill="none"/>
<rect x="626.5" y="31.5" width="397" height="331" fill="none" stroke="#000" stroke-width="1.15"/>
<path d="M626.5 362.5v-6M626.5 31.5v6M671.5 362.5v-6M671.5 31.5v6M715.5 362.5v-6M715.5 31.5v6M759.5 362.5v-6M759.5 31.5v6M803.5 362.5v-6M803.5 31.5v6M847.5 362.5v-6M847.5 31.5v6M891.5 362.5v-6M891.5 31.5v6M935.5 362.5v-6M935.5 31.5v6M979.5 362.5v-6M979.5 31.5v6M1023.5 362.5v-6M1023.5 31.5v6M626.5 31.5h4.5M1023.5 31.5h-4.5M626.5 197.5h4.5M1023.5 197.5h-4.5M626.5 147.5h2.2M1023.5 147.5h-2.2M626.5 118.5h2.2M1023.5 118.5h-2.2M626.5 97.5h2.2M1023.5 97.5h-2.2M626.5 81.5h2.2M1023.5 81.5h-2.2M626.5 68.5h2.2M1023.5 68.5h-2.2M626.5 57.5h2.2M1023.5 57.5h-2.2M626.5 47.5h2.2M1023.5 47.5h-2.2M626.5 39.5h2.2M1023.5 39.5h-2.2M626.5 362.5h4.5M1023.5 362.5h-4.5M626.5 312.5h2.2M1023.5 312.5h-2.2M626.5 283.5h2.2M1023.5 283.5h-2.2M626.5 262.5h2.2M1023.5 262.5h-2.2M626.5 246.5h2.2M1023.5 246.5h-2.2M626.5 233.5h2.2M1023.5 233.5h-2.2M626.5 222.5h2.2M1023.5 222.5h-2.2M626.5 213.5h2.2M1023.5 213.5h-2.2M626.5 204.5h2.2M1023.5 204.5h-2.2" stroke="#000" stroke-width="1" fill="none"/>
<g filter="url(#bl)">
<g font-family="'Liberation Sans', sans-serif" font-size="6.2" fill="#000" stroke="#000" stroke-width="0.15" text-anchor="middle">
<text transform="translate(625.2 369.7) scale(0.84 1)">-2</text>
<text transform="translate(669.31 369.7) scale(0.84 1)">-1.5</text>
<text transform="translate(713.42 369.7) scale(0.84 1)">-1</text>
<text transform="translate(757.53 369.7) scale(0.84 1)">-0.5</text>
<text transform="translate(802.74 369.7) scale(0.84 1)">0</text>
<text transform="translate(846.86 369.7) scale(0.84 1)">0.5</text>
<text transform="translate(890.97 369.7) scale(0.84 1)">1</text>
<text transform="translate(935.08 369.7) scale(0.84 1)">1.5</text>
<text transform="translate(979.19 369.7) scale(0.84 1)">2</text>
<text transform="translate(1023.3 369.7) scale(0.84 1)">2.5</text>
<text transform="translate(824.5 377.6) scale(0.84 1)">SNR</text>
</g>
<g font-family="'Liberation Sans', sans-serif" fill="#000" stroke="#000" stroke-width="0.1">
<text x="621.9" y="34.1" font-size="5.4" text-anchor="end" textLength="5.6" lengthAdjust="spacingAndGlyphs">10</text>
<text x="622.1" y="30.3" font-size="3.6" textLength="2.2" lengthAdjust="spacingAndGlyphs">0</text>
<text x="621.9" y="199.6" font-size="5.4" text-anchor="end" textLength="5.6" lengthAdjust="spacingAndGlyphs">10</text>
<text x="622.1" y="195.8" font-size="3.6" textLength="3.8" lengthAdjust="spacingAndGlyphs">-1</text>
<text x="621.9" y="365.1" font-size="5.4" text-anchor="end" textLength="5.6" lengthAdjust="spacingAndGlyphs">10</text>
<text x="622.1" y="361.3" font-size="3.6" textLength="3.8" lengthAdjust="spacingAndGlyphs">-2</text>
<text transform="translate(611.5 197) rotate(-90)" font-size="5.6" text-anchor="middle" textLength="17" lengthAdjust="spacingAndGlyphs">BLER</text>
</g>
</g>
<g filter="url(#bl)">
<polyline points="890.77,31.9 899.59,32.6 908.41,39.6 917.23,72.4 926.06,145.2 934.88,281.5" fill="none" stroke="#ff0000" stroke-width="1.7" stroke-dasharray="4.2 3.2"/>
<polyline points="890.77,31.9 899.59,33.4 908.41,41 917.23,69 926.06,124.8 934.88,211.5" fill="none" stroke="#ff0000" stroke-width="1.7" stroke-dasharray="4.2 3.2"/>
<polyline points="882.14,31.9 890.97,32.2 899.79,34.5 908.61,42 917.43,63.5 926.26,102.7 935.08,156.6 943.9,234" fill="none" stroke="#ff0000" stroke-width="1.7" stroke-dasharray="4.2 3.2"/>
<polyline points="883.34,31.9 892.17,32.6 900.99,35.8 909.81,43 918.63,57.5 927.46,76.3 936.28,101.2 945.1,133.9 953.92,176 962.74,233" fill="none" stroke="#ff0000" stroke-width="1.7" stroke-dasharray="4.2 3.2"/>
<polyline points="874.42,31.9 883.24,32 892.07,33.6 900.89,37.2 909.71,43.8 918.53,50.3 927.36,59.2 936.18,70.8 945,86 953.82,104 962.64,126.3 971.47,152.6 980.29,183.5 989.11,217.5" fill="none" stroke="#ff0000" stroke-width="1.7" stroke-dasharray="4.2 3.2"/>
<polyline points="891.57,31.9 900.39,32.6 909.21,39.6 918.03,72.4 926.86,145.2 935.68,281.5" fill="none" stroke="#0000ff" stroke-width="1.95" stroke-linejoin="round"/>
<g fill="none" stroke="#0000ff" stroke-width="1.6">
<polygon points="624,29.7 629.8,29.7 626.9,36.2"/>
<polygon points="632.82,29.7 638.62,29.7 635.72,36.2"/>
<polygon points="641.64,29.7 647.44,29.7 644.54,36.2"/>
<polygon points="650.47,29.7 656.27,29.7 653.37,36.2"/>
<polygon points="659.29,29.7 665.09,29.7 662.19,36.2"/>
<polygon points="668.11,29.7 673.91,29.7 671.01,36.2"/>
<polygon points="676.93,29.7 682.73,29.7 679.83,36.2"/>
<polygon points="685.76,29.7 691.56,29.7 688.66,36.2"/>
<polygon points="694.58,29.7 700.38,29.7 697.48,36.2"/>
<polygon points="703.4,29.7 709.2,29.7 706.3,36.2"/>
<polygon points="712.22,29.7 718.02,29.7 715.12,36.2"/>
<polygon points="721.04,29.7 726.84,29.7 723.94,36.2"/>
<polygon points="729.87,29.7 735.67,29.7 732.77,36.2"/>
<polygon points="738.69,29.7 744.49,29.7 741.59,36.2"/>
<polygon points="747.51,29.7 753.31,29.7 750.41,36.2"/>
<polygon points="756.33,29.7 762.13,29.7 759.23,36.2"/>
<polygon points="765.16,29.7 770.96,29.7 768.06,36.2"/>
<polygon points="773.98,29.7 779.78,29.7 776.88,36.2"/>
<polygon points="782.8,29.7 788.6,29.7 785.7,36.2"/>
<polygon points="791.62,29.7 797.42,29.7 794.52,36.2"/>
<polygon points="800.44,29.7 806.24,29.7 803.34,36.2"/>
<polygon points="809.27,29.7 815.07,29.7 812.17,36.2"/>
<polygon points="818.09,29.7 823.89,29.7 820.99,36.2"/>
<polygon points="826.91,29.7 832.71,29.7 829.81,36.2"/>
<polygon points="835.73,29.7 841.53,29.7 838.63,36.2"/>
<polygon points="844.56,29.7 850.36,29.7 847.46,36.2"/>
<polygon points="853.38,29.7 859.18,29.7 856.28,36.2"/>
<polygon points="862.2,29.7 868,29.7 865.1,36.2"/>
<polygon points="871.02,29.7 876.82,29.7 873.92,36.2"/>
<polygon points="879.84,29.7 885.64,29.7 882.74,36.2"/>
<polygon points="888.67,29.7 894.47,29.7 891.57,36.2"/>
<polygon points="897.49,30.4 903.29,30.4 900.39,36.9"/>
<polygon points="906.31,37.4 912.11,37.4 909.21,43.9"/>
<polygon points="915.13,70.2 920.93,70.2 918.03,76.7"/>
<polygon points="923.96,143 929.76,143 926.86,149.5"/>
<polygon points="932.78,279.3 938.58,279.3 935.68,285.8"/>
</g>
<polyline points="891.57,31.9 900.39,33.4 909.21,41 918.03,69 926.86,124.8 935.68,211.5" fill="none" stroke="#0000ff" stroke-width="1.95" stroke-linejoin="round"/>
<g fill="none" stroke="#0000ff" stroke-width="1.6">
<polygon points="624,34.1 629.8,34.1 626.9,27.6"/>
<polygon points="632.82,34.1 638.62,34.1 635.72,27.6"/>
<polygon points="641.64,34.1 647.44,34.1 644.54,27.6"/>
<polygon points="650.47,34.1 656.27,34.1 653.37,27.6"/>
<polygon points="659.29,34.1 665.09,34.1 662.19,27.6"/>
<polygon points="668.11,34.1 673.91,34.1 671.01,27.6"/>
<polygon points="676.93,34.1 682.73,34.1 679.83,27.6"/>
<polygon points="685.76,34.1 691.56,34.1 688.66,27.6"/>
<polygon points="694.58,34.1 700.38,34.1 697.48,27.6"/>
<polygon points="703.4,34.1 709.2,34.1 706.3,27.6"/>
<polygon points="712.22,34.1 718.02,34.1 715.12,27.6"/>
<polygon points="721.04,34.1 726.84,34.1 723.94,27.6"/>
<polygon points="729.87,34.1 735.67,34.1 732.77,27.6"/>
<polygon points="738.69,34.1 744.49,34.1 741.59,27.6"/>
<polygon points="747.51,34.1 753.31,34.1 750.41,27.6"/>
<polygon points="756.33,34.1 762.13,34.1 759.23,27.6"/>
<polygon points="765.16,34.1 770.96,34.1 768.06,27.6"/>
<polygon points="773.98,34.1 779.78,34.1 776.88,27.6"/>
<polygon points="782.8,34.1 788.6,34.1 785.7,27.6"/>
<polygon points="791.62,34.1 797.42,34.1 794.52,27.6"/>
<polygon points="800.44,34.1 806.24,34.1 803.34,27.6"/>
<polygon points="809.27,34.1 815.07,34.1 812.17,27.6"/>
<polygon points="818.09,34.1 823.89,34.1 820.99,27.6"/>
<polygon points="826.91,34.1 832.71,34.1 829.81,27.6"/>
<polygon points="835.73,34.1 841.53,34.1 838.63,27.6"/>
<polygon points="844.56,34.1 850.36,34.1 847.46,27.6"/>
<polygon points="853.38,34.1 859.18,34.1 856.28,27.6"/>
<polygon points="862.2,34.1 868,34.1 865.1,27.6"/>
<polygon points="871.02,34.1 876.82,34.1 873.92,27.6"/>
<polygon points="879.84,34.1 885.64,34.1 882.74,27.6"/>
<polygon points="888.67,34.1 894.47,34.1 891.57,27.6"/>
<polygon points="897.49,35.6 903.29,35.6 900.39,29.1"/>
<polygon points="906.31,43.2 912.11,43.2 909.21,36.7"/>
<polygon points="915.13,71.2 920.93,71.2 918.03,64.7"/>
<polygon points="923.96,127 929.76,127 926.86,120.5"/>
<polygon points="932.78,213.7 938.58,213.7 935.68,207.2"/>
</g>
<polyline points="882.74,31.9 891.57,32.2 900.39,34.5 909.21,42 918.03,63.5 926.86,102.7 935.68,156.6 944.5,234" fill="none" stroke="#0000ff" stroke-width="1.95" stroke-linejoin="round"/>
<g fill="none" stroke="#0000ff" stroke-width="1.6">
<rect x="624.8" y="29.3" width="4.2" height="5.2"/>
<rect x="633.62" y="29.3" width="4.2" height="5.2"/>
<rect x="642.44" y="29.3" width="4.2" height="5.2"/>
<rect x="651.27" y="29.3" width="4.2" height="5.2"/>
<rect x="660.09" y="29.3" width="4.2" height="5.2"/>
<rect x="668.91" y="29.3" width="4.2" height="5.2"/>
<rect x="677.73" y="29.3" width="4.2" height="5.2"/>
<rect x="686.56" y="29.3" width="4.2" height="5.2"/>
<rect x="695.38" y="29.3" width="4.2" height="5.2"/>
<rect x="704.2" y="29.3" width="4.2" height="5.2"/>
<rect x="713.02" y="29.3" width="4.2" height="5.2"/>
<rect x="721.84" y="29.3" width="4.2" height="5.2"/>
<rect x="730.67" y="29.3" width="4.2" height="5.2"/>
<rect x="739.49" y="29.3" width="4.2" height="5.2"/>
<rect x="748.31" y="29.3" width="4.2" height="5.2"/>
<rect x="757.13" y="29.3" width="4.2" height="5.2"/>
<rect x="765.96" y="29.3" width="4.2" height="5.2"/>
<rect x="774.78" y="29.3" width="4.2" height="5.2"/>
<rect x="783.6" y="29.3" width="4.2" height="5.2"/>
<rect x="792.42" y="29.3" width="4.2" height="5.2"/>
<rect x="801.24" y="29.3" width="4.2" height="5.2"/>
<rect x="810.07" y="29.3" width="4.2" height="5.2"/>
<rect x="818.89" y="29.3" width="4.2" height="5.2"/>
<rect x="827.71" y="29.3" width="4.2" height="5.2"/>
<rect x="836.53" y="29.3" width="4.2" height="5.2"/>
<rect x="845.36" y="29.3" width="4.2" height="5.2"/>
<rect x="854.18" y="29.3" width="4.2" height="5.2"/>
<rect x="863" y="29.3" width="4.2" height="5.2"/>
<rect x="871.82" y="29.3" width="4.2" height="5.2"/>
<rect x="880.64" y="29.3" width="4.2" height="5.2"/>
<rect x="889.47" y="29.6" width="4.2" height="5.2"/>
<rect x="898.29" y="31.9" width="4.2" height="5.2"/>
<rect x="907.11" y="39.4" width="4.2" height="5.2"/>
<rect x="915.93" y="60.9" width="4.2" height="5.2"/>
<rect x="924.76" y="100.1" width="4.2" height="5.2"/>
<rect x="933.58" y="154" width="4.2" height="5.2"/>
<rect x="942.4" y="231.4" width="4.2" height="5.2"/>
</g>
<polyline points="882.74,31.9 891.57,32.6 900.39,35.8 909.21,43 918.03,57.5 926.86,76.3 935.68,101.2 944.5,133.9 953.32,176 962.14,227.5" fill="none" stroke="#0000ff" stroke-width="1.95" stroke-linejoin="round"/>
<g fill="none" stroke="#0000ff" stroke-width="1.6">
<path d="M624.1 31.9H629.7M626.9 28.4V35.4"/>
<path d="M632.92 31.9H638.52M635.72 28.4V35.4"/>
<path d="M641.74 31.9H647.34M644.54 28.4V35.4"/>
<path d="M650.57 31.9H656.17M653.37 28.4V35.4"/>
<path d="M659.39 31.9H664.99M662.19 28.4V35.4"/>
<path d="M668.21 31.9H673.81M671.01 28.4V35.4"/>
<path d="M677.03 31.9H682.63M679.83 28.4V35.4"/>
<path d="M685.86 31.9H691.46M688.66 28.4V35.4"/>
<path d="M694.68 31.9H700.28M697.48 28.4V35.4"/>
<path d="M703.5 31.9H709.1M706.3 28.4V35.4"/>
<path d="M712.32 31.9H717.92M715.12 28.4V35.4"/>
<path d="M721.14 31.9H726.74M723.94 28.4V35.4"/>
<path d="M729.97 31.9H735.57M732.77 28.4V35.4"/>
<path d="M738.79 31.9H744.39M741.59 28.4V35.4"/>
<path d="M747.61 31.9H753.21M750.41 28.4V35.4"/>
<path d="M756.43 31.9H762.03M759.23 28.4V35.4"/>
<path d="M765.26 31.9H770.86M768.06 28.4V35.4"/>
<path d="M774.08 31.9H779.68M776.88 28.4V35.4"/>
<path d="M782.9 31.9H788.5M785.7 28.4V35.4"/>
<path d="M791.72 31.9H797.32M794.52 28.4V35.4"/>
<path d="M800.54 31.9H806.14M803.34 28.4V35.4"/>
<path d="M809.37 31.9H814.97M812.17 28.4V35.4"/>
<path d="M818.19 31.9H823.79M820.99 28.4V35.4"/>
<path d="M827.01 31.9H832.61M829.81 28.4V35.4"/>
<path d="M835.83 31.9H841.43M838.63 28.4V35.4"/>
<path d="M844.66 31.9H850.26M847.46 28.4V35.4"/>
<path d="M853.48 31.9H859.08M856.28 28.4V35.4"/>
<path d="M862.3 31.9H867.9M865.1 28.4V35.4"/>
<path d="M871.12 31.9H876.72M873.92 28.4V35.4"/>
<path d="M879.94 31.9H885.54M882.74 28.4V35.4"/>
<path d="M888.77 32.6H894.37M891.57 29.1V36.1"/>
<path d="M897.59 35.8H903.19M900.39 32.3V39.3"/>
<path d="M906.41 43H912.01M909.21 39.5V46.5"/>
<path d="M915.23 57.5H920.83M918.03 54V61"/>
<path d="M924.06 76.3H929.66M926.86 72.8V79.8"/>
<path d="M932.88 101.2H938.48M935.68 97.7V104.7"/>
<path d="M941.7 133.9H947.3M944.5 130.4V137.4"/>
<path d="M950.52 176H956.12M953.32 172.5V179.5"/>
<path d="M959.34 227.5H964.94M962.14 224V231"/>
</g>
<polyline points="626.9,31.9 635.72,31.9 644.54,31.9 653.37,31.9 662.19,31.9 671.01,31.9 679.83,31.9 688.66,31.9 697.48,31.9 706.3,31.9 715.12,31.9 723.94,31.9 732.77,31.9 741.59,31.9 750.41,31.9 759.23,31.9 768.06,31.9 776.88,31.9 785.7,31.9 794.52,31.9 803.34,31.9 812.17,31.9 820.99,31.9 829.81,31.9 838.63,31.9 847.46,31.9 856.28,31.9 865.1,31.9 873.92,31.9 882.74,32 891.57,33.6 900.39,37.2 909.21,43.8 918.03,50.3 926.86,59.2 935.68,70.8 944.5,86 953.32,104 962.14,126.3 970.97,152.6 979.79,183.5 988.61,217.5" fill="none" stroke="#0000ff" stroke-width="1.95" stroke-linejoin="round"/>
<g fill="none" stroke="#0000ff" stroke-width="1.6">
<polygon points="626.9,28.6 626.07,30.25 624.41,30.25 625.24,31.9 624.41,33.55 626.07,33.55 626.9,35.2 627.73,33.55 629.39,33.55 628.56,31.9 629.39,30.25 627.73,30.25"/>
<polygon points="635.72,28.6 634.89,30.25 633.24,30.25 634.06,31.9 633.24,33.55 634.89,33.55 635.72,35.2 636.55,33.55 638.21,33.55 637.38,31.9 638.21,30.25 636.55,30.25"/>
<polygon points="644.54,28.6 643.72,30.25 642.06,30.25 642.89,31.9 642.06,33.55 643.72,33.55 644.54,35.2 645.37,33.55 647.03,33.55 646.2,31.9 647.03,30.25 645.37,30.25"/>
<polygon points="653.37,28.6 652.54,30.25 650.88,30.25 651.71,31.9 650.88,33.55 652.54,33.55 653.37,35.2 654.2,33.55 655.85,33.55 655.02,31.9 655.85,30.25 654.2,30.25"/>
<polygon points="662.19,28.6 661.36,30.25 659.7,30.25 660.53,31.9 659.7,33.55 661.36,33.55 662.19,35.2 663.02,33.55 664.68,33.55 663.85,31.9 664.68,30.25 663.02,30.25"/>
<polygon points="671.01,28.6 670.18,30.25 668.52,30.25 669.35,31.9 668.52,33.55 670.18,33.55 671.01,35.2 671.84,33.55 673.5,33.55 672.67,31.9 673.5,30.25 671.84,30.25"/>
<polygon points="679.83,28.6 679,30.25 677.35,30.25 678.18,31.9 677.35,33.55 679,33.55 679.83,35.2 680.66,33.55 682.32,33.55 681.49,31.9 682.32,30.25 680.66,30.25"/>
<polygon points="688.66,28.6 687.83,30.25 686.17,30.25 687,31.9 686.17,33.55 687.83,33.55 688.66,35.2 689.48,33.55 691.14,33.55 690.31,31.9 691.14,30.25 689.48,30.25"/>
<polygon points="697.48,28.6 696.65,30.25 694.99,30.25 695.82,31.9 694.99,33.55 696.65,33.55 697.48,35.2 698.31,33.55 699.96,33.55 699.14,31.9 699.96,30.25 698.31,30.25"/>
<polygon points="706.3,28.6 705.47,30.25 703.81,30.25 704.64,31.9 703.81,33.55 705.47,33.55 706.3,35.2 707.13,33.55 708.79,33.55 707.96,31.9 708.79,30.25 707.13,30.25"/>
<polygon points="715.12,28.6 714.29,30.25 712.64,30.25 713.46,31.9 712.64,33.55 714.29,33.55 715.12,35.2 715.95,33.55 717.61,33.55 716.78,31.9 717.61,30.25 715.95,30.25"/>
<polygon points="723.94,28.6 723.12,30.25 721.46,30.25 722.29,31.9 721.46,33.55 723.12,33.55 723.94,35.2 724.77,33.55 726.43,33.55 725.6,31.9 726.43,30.25 724.77,30.25"/>
<polygon points="732.77,28.6 731.94,30.25 730.28,30.25 731.11,31.9 730.28,33.55 731.94,33.55 732.77,35.2 733.6,33.55 735.25,33.55 734.42,31.9 735.25,30.25 733.6,30.25"/>
<polygon points="741.59,28.6 740.76,30.25 739.1,30.25 739.93,31.9 739.1,33.55 740.76,33.55 741.59,35.2 742.42,33.55 744.08,33.55 743.25,31.9 744.08,30.25 742.42,30.25"/>
<polygon points="750.41,28.6 749.58,30.25 747.92,30.25 748.75,31.9 747.92,33.55 749.58,33.55 750.41,35.2 751.24,33.55 752.9,33.55 752.07,31.9 752.9,30.25 751.24,30.25"/>
<polygon points="759.23,28.6 758.4,30.25 756.75,30.25 757.58,31.9 756.75,33.55 758.4,33.55 759.23,35.2 760.06,33.55 761.72,33.55 760.89,31.9 761.72,30.25 760.06,30.25"/>
<polygon points="768.06,28.6 767.23,30.25 765.57,30.25 766.4,31.9 765.57,33.55 767.23,33.55 768.06,35.2 768.88,33.55 770.54,33.55 769.71,31.9 770.54,30.25 768.88,30.25"/>
<polygon points="776.88,28.6 776.05,30.25 774.39,30.25 775.22,31.9 774.39,33.55 776.05,33.55 776.88,35.2 777.71,33.55 779.36,33.55 778.54,31.9 779.36,30.25 777.71,30.25"/>
<polygon points="785.7,28.6 784.87,30.25 783.21,30.25 784.04,31.9 783.21,33.55 784.87,33.55 785.7,35.2 786.53,33.55 788.19,33.55 787.36,31.9 788.19,30.25 786.53,30.25"/>
<polygon points="794.52,28.6 793.69,30.25 792.04,30.25 792.86,31.9 792.04,33.55 793.69,33.55 794.52,35.2 795.35,33.55 797.01,33.55 796.18,31.9 797.01,30.25 795.35,30.25"/>
<polygon points="803.34,28.6 802.52,30.25 800.86,30.25 801.69,31.9 800.86,33.55 802.52,33.55 803.34,35.2 804.17,33.55 805.83,33.55 805,31.9 805.83,30.25 804.17,30.25"/>
<polygon points="812.17,28.6 811.34,30.25 809.68,30.25 810.51,31.9 809.68,33.55 811.34,33.55 812.17,35.2 813,33.55 814.65,33.55 813.82,31.9 814.65,30.25 813,30.25"/>
<polygon points="820.99,28.6 820.16,30.25 818.5,30.25 819.33,31.9 818.5,33.55 820.16,33.55 820.99,35.2 821.82,33.55 823.48,33.55 822.65,31.9 823.48,30.25 821.82,30.25"/>
<polygon points="829.81,28.6 828.98,30.25 827.32,30.25 828.15,31.9 827.32,33.55 828.98,33.55 829.81,35.2 830.64,33.55 832.3,33.55 831.47,31.9 832.3,30.25 830.64,30.25"/>
<polygon points="838.63,28.6 837.8,30.25 836.15,30.25 836.98,31.9 836.15,33.55 837.8,33.55 838.63,35.2 839.46,33.55 841.12,33.55 840.29,31.9 841.12,30.25 839.46,30.25"/>
<polygon points="847.46,28.6 846.63,30.25 844.97,30.25 845.8,31.9 844.97,33.55 846.63,33.55 847.46,35.2 848.28,33.55 849.94,33.55 849.11,31.9 849.94,30.25 848.28,30.25"/>
<polygon points="856.28,28.6 855.45,30.25 853.79,30.25 854.62,31.9 853.79,33.55 855.45,33.55 856.28,35.2 857.11,33.55 858.76,33.55 857.94,31.9 858.76,30.25 857.11,30.25"/>
<polygon points="865.1,28.6 864.27,30.25 862.61,30.25 863.44,31.9 862.61,33.55 864.27,33.55 865.1,35.2 865.93,33.55 867.59,33.55 866.76,31.9 867.59,30.25 865.93,30.25"/>
<polygon points="873.92,28.6 873.09,30.25 871.44,30.25 872.26,31.9 871.44,33.55 873.09,33.55 873.92,35.2 874.75,33.55 876.41,33.55 875.58,31.9 876.41,30.25 874.75,30.25"/>
<polygon points="882.74,28.7 881.92,30.35 880.26,30.35 881.09,32 880.26,33.65 881.92,33.65 882.74,35.3 883.57,33.65 885.23,33.65 884.4,32 885.23,30.35 883.57,30.35"/>
<polygon points="891.57,30.3 890.74,31.95 889.08,31.95 889.91,33.6 889.08,35.25 890.74,35.25 891.57,36.9 892.4,35.25 894.05,35.25 893.22,33.6 894.05,31.95 892.4,31.95"/>
<polygon points="900.39,33.9 899.56,35.55 897.9,35.55 898.73,37.2 897.9,38.85 899.56,38.85 900.39,40.5 901.22,38.85 902.88,38.85 902.05,37.2 902.88,35.55 901.22,35.55"/>
<polygon points="909.21,40.5 908.38,42.15 906.72,42.15 907.55,43.8 906.72,45.45 908.38,45.45 909.21,47.1 910.04,45.45 911.7,45.45 910.87,43.8 911.7,42.15 910.04,42.15"/>
<polygon points="918.03,47 917.2,48.65 915.55,48.65 916.38,50.3 915.55,51.95 917.2,51.95 918.03,53.6 918.86,51.95 920.52,51.95 919.69,50.3 920.52,48.65 918.86,48.65"/>
<polygon points="926.86,55.9 926.03,57.55 924.37,57.55 925.2,59.2 924.37,60.85 926.03,60.85 926.86,62.5 927.68,60.85 929.34,60.85 928.51,59.2 929.34,57.55 927.68,57.55"/>
<polygon points="935.68,67.5 934.85,69.15 933.19,69.15 934.02,70.8 933.19,72.45 934.85,72.45 935.68,74.1 936.51,72.45 938.16,72.45 937.34,70.8 938.16,69.15 936.51,69.15"/>
<polygon points="944.5,82.7 943.67,84.35 942.01,84.35 942.84,86 942.01,87.65 943.67,87.65 944.5,89.3 945.33,87.65 946.99,87.65 946.16,86 946.99,84.35 945.33,84.35"/>
<polygon points="953.32,100.7 952.49,102.35 950.84,102.35 951.66,104 950.84,105.65 952.49,105.65 953.32,107.3 954.15,105.65 955.81,105.65 954.98,104 955.81,102.35 954.15,102.35"/>
<polygon points="962.14,123 961.32,124.65 959.66,124.65 960.49,126.3 959.66,127.95 961.32,127.95 962.14,129.6 962.97,127.95 964.63,127.95 963.8,126.3 964.63,124.65 962.97,124.65"/>
<polygon points="970.97,149.3 970.14,150.95 968.48,150.95 969.31,152.6 968.48,154.25 970.14,154.25 970.97,155.9 971.8,154.25 973.45,154.25 972.62,152.6 973.45,150.95 971.8,150.95"/>
<polygon points="979.79,180.2 978.96,181.85 977.3,181.85 978.13,183.5 977.3,185.15 978.96,185.15 979.79,186.8 980.62,185.15 982.28,185.15 981.45,183.5 982.28,181.85 980.62,181.85"/>
<polygon points="988.61,214.2 987.78,215.85 986.12,215.85 986.95,217.5 986.12,219.15 987.78,219.15 988.61,220.8 989.44,219.15 991.1,219.15 990.27,217.5 991.1,215.85 989.44,215.85"/>
</g>
</g>
<rect x="628.5" y="265.5" width="73" height="95" fill="#fff" stroke="#000" stroke-width="1.15"/>
<g filter="url(#bl)">
<g font-family="'Liberation Sans', sans-serif" font-size="6.2" fill="#000" stroke="#000" stroke-width="0.15">
<path d="M631.3 271.4H646.7" stroke="#ff0000" stroke-width="1.6" stroke-dasharray="3.9 2" fill="none"/>
<text transform="translate(649.3 273.3) scale(0.819 1)">TB = 6000 (AWGN)</text>
<path d="M631.3 280.64H646.7" stroke="#0000ff" stroke-width="1.8" fill="none"/>
<g fill="none" stroke="#0000ff" stroke-width="1.5"><polygon points="636.1,278.44 641.9,278.44 639,284.94"/></g>
<text transform="translate(649.3 282.54) scale(0.819 1)">TB = 6000 (estimated)</text>
<path d="M631.3 289.89H646.7" stroke="#ff0000" stroke-width="1.6" stroke-dasharray="3.9 2" fill="none"/>
<text transform="translate(649.3 291.79) scale(0.819 1)">TB = 4000 (AWGN)</text>
<path d="M631.3 299.13H646.7" stroke="#0000ff" stroke-width="1.8" fill="none"/>
<g fill="none" stroke="#0000ff" stroke-width="1.5"><polygon points="636.1,301.33 641.9,301.33 639,294.83"/></g>
<text transform="translate(649.3 301.03) scale(0.819 1)">TB = 4000 (estimated)</text>
<path d="M631.3 308.38H646.7" stroke="#ff0000" stroke-width="1.6" stroke-dasharray="3.9 2" fill="none"/>
<text transform="translate(649.3 310.28) scale(0.819 1)">TB = 2560 (AWGN)</text>
<path d="M631.3 317.62H646.7" stroke="#0000ff" stroke-width="1.8" fill="none"/>
<g fill="none" stroke="#0000ff" stroke-width="1.5"><rect x="636.9" y="315.02" width="4.2" height="5.2"/></g>
<text transform="translate(649.3 319.52) scale(0.819 1)">TB = 2560 (estimated)</text>
<path d="M631.3 326.87H646.7" stroke="#ff0000" stroke-width="1.6" stroke-dasharray="3.9 2" fill="none"/>
<text transform="translate(649.3 328.77) scale(0.819 1)">TB = 1024 (AWGN)</text>
<path d="M631.3 336.11H646.7" stroke="#0000ff" stroke-width="1.8" fill="none"/>
<g fill="none" stroke="#0000ff" stroke-width="1.5"><path d="M636.2 336.11H641.8M639 332.61V339.61"/></g>
<text transform="translate(649.3 338.01) scale(0.819 1)">TB = 1024 (estimated)</text>
<path d="M631.3 345.36H646.7" stroke="#ff0000" stroke-width="1.6" stroke-dasharray="3.9 2" fill="none"/>
<text transform="translate(649.3 347.26) scale(0.819 1)">TB = 512 (AWGN)</text>
<path d="M631.3 354.6H646.7" stroke="#0000ff" stroke-width="1.8" fill="none"/>
<g fill="none" stroke="#0000ff" stroke-width="1.5"><polygon points="639,351.3 638.17,352.95 636.51,352.95 637.34,354.6 636.51,356.25 638.17,356.25 639,357.9 639.83,356.25 641.49,356.25 640.66,354.6 641.49,352.95 639.83,352.95"/></g>
<text transform="translate(649.3 356.5) scale(0.819 1)">TB = 512 (estimated)</text>
</g>
</g>
</g>
<g>
<path d="M104.5 505V833.5M144.5 505V833.5M184.5 505V833.5M223.5 505V833.5M263.5 505V833.5M303.5 505V833.5M343.5 505V833.5M382.5 505V833.5M422.5 505V833.5" stroke="#000" stroke-opacity="0.42" stroke-width="1" stroke-dasharray="1 2" fill="none"/>
<path d="M67 618.5H462.5M67 589.5H462.5M67 569.5H462.5M67 553.5H462.5M67 540.5H462.5M67 529.5H462.5M67 519.5H462.5M67 511.5H462.5M67 783.5H462.5M67 754.5H462.5M67 734.5H462.5M67 718.5H462.5M67 705.5H462.5M67 694.5H462.5M67 684.5H462.5M67 676.5H462.5" stroke="#000" stroke-opacity="0.42" stroke-width="1" stroke-dasharray="1 1 1 1 1 2" fill="none"/>
<path d="M67 668.5H462.5" stroke="#000" stroke-opacity="0.72" stroke-width="1" stroke-dasharray="1 1 1 1 1 2" fill="none"/>
<rect x="65.5" y="503.5" width="397" height="330" fill="none" stroke="#000" stroke-width="1.15"/>
<path d="M65.5 833.5v-6M65.5 503.5v6M104.5 833.5v-6M104.5 503.5v6M144.5 833.5v-6M144.5 503.5v6M184.5 833.5v-6M184.5 503.5v6M223.5 833.5v-6M223.5 503.5v6M263.5 833.5v-6M263.5 503.5v6M303.5 833.5v-6M303.5 503.5v6M343.5 833.5v-6M343.5 503.5v6M382.5 833.5v-6M382.5 503.5v6M422.5 833.5v-6M422.5 503.5v6M462.5 833.5v-6M462.5 503.5v6M65.5 503.5h4.5M462.5 503.5h-4.5M65.5 668.5h4.5M462.5 668.5h-4.5M65.5 618.5h2.2M462.5 618.5h-2.2M65.5 589.5h2.2M462.5 589.5h-2.2M65.5 569.5h2.2M462.5 569.5h-2.2M65.5 553.5h2.2M462.5 553.5h-2.2M65.5 540.5h2.2M462.5 540.5h-2.2M65.5 529.5h2.2M462.5 529.5h-2.2M65.5 519.5h2.2M462.5 519.5h-2.2M65.5 511.5h2.2M462.5 511.5h-2.2M65.5 833.5h4.5M462.5 833.5h-4.5M65.5 783.5h2.2M462.5 783.5h-2.2M65.5 754.5h2.2M462.5 754.5h-2.2M65.5 734.5h2.2M462.5 734.5h-2.2M65.5 718.5h2.2M462.5 718.5h-2.2M65.5 705.5h2.2M462.5 705.5h-2.2M65.5 694.5h2.2M462.5 694.5h-2.2M65.5 684.5h2.2M462.5 684.5h-2.2M65.5 676.5h2.2M462.5 676.5h-2.2" stroke="#000" stroke-width="1" fill="none"/>
<g filter="url(#bl)">
<g font-family="'Liberation Sans', sans-serif" font-size="6.2" fill="#000" stroke="#000" stroke-width="0.15" text-anchor="middle">
<text transform="translate(65.3 841.8) scale(0.84 1)">2</text>
<text transform="translate(105 841.8) scale(0.84 1)">2.2</text>
<text transform="translate(144.7 841.8) scale(0.84 1)">2.4</text>
<text transform="translate(184.4 841.8) scale(0.84 1)">2.6</text>
<text transform="translate(224.1 841.8) scale(0.84 1)">2.8</text>
<text transform="translate(263.8 841.8) scale(0.84 1)">3</text>
<text transform="translate(303.5 841.8) scale(0.84 1)">3.2</text>
<text transform="translate(343.2 841.8) scale(0.84 1)">3.4</text>
<text transform="translate(382.9 841.8) scale(0.84 1)">3.6</text>
<text transform="translate(422.6 841.8) scale(0.84 1)">3.8</text>
<text transform="translate(462.3 841.8) scale(0.84 1)">4</text>
<text transform="translate(263.5 848.6) scale(0.84 1)">SNR</text>
</g>
<g font-family="'Liberation Sans', sans-serif" fill="#000" stroke="#000" stroke-width="0.1">
<text x="59.9" y="506.1" font-size="5.4" text-anchor="end" textLength="4.3" lengthAdjust="spacingAndGlyphs">10</text>
<text x="60.1" y="502.3" font-size="3.6" textLength="2" lengthAdjust="spacingAndGlyphs">0</text>
<text x="59.9" y="671.1" font-size="5.4" text-anchor="end" textLength="4.3" lengthAdjust="spacingAndGlyphs">10</text>
<text x="60.1" y="667.3" font-size="3.6" textLength="3.6" lengthAdjust="spacingAndGlyphs">-1</text>
<text x="59.9" y="836.1" font-size="5.4" text-anchor="end" textLength="4.3" lengthAdjust="spacingAndGlyphs">10</text>
<text x="60.1" y="832.3" font-size="3.6" textLength="3.6" lengthAdjust="spacingAndGlyphs">-2</text>
<text transform="translate(50.6 668.5) rotate(-90)" font-size="5.6" text-anchor="middle" textLength="17" lengthAdjust="spacingAndGlyphs">BLER</text>
</g>
</g>
<g filter="url(#bl)">
<polyline points="224.9,503.5 244.75,503.8 264.6,504.6 284.45,515.2 304.3,550 324.15,614.7 344,725.9" fill="none" stroke="#ff0000" stroke-width="1.7" stroke-dasharray="4.2 3.2"/>
<polyline points="185.2,503.5 205.05,503.7 224.9,504.5 244.75,506 264.6,508.6 284.45,519.6 304.3,557.8 324.15,614.2 344,698.8" fill="none" stroke="#ff0000" stroke-width="1.7" stroke-dasharray="4.2 3.2"/>
<polyline points="165.35,503.5 185.2,503.7 205.05,504.5 224.9,506 244.75,508.5 264.6,512 284.45,522.2 304.3,545.6 324.15,585.4 344,644.6 363.85,724.5" fill="none" stroke="#ff0000" stroke-width="1.7" stroke-dasharray="4.2 3.2"/>
<polyline points="145.4,503.5 165.25,503.7 185.1,504.3 204.95,505.6 224.8,508 244.65,511.5 264.5,516.6 284.35,524.6 304.2,541.5 324.05,560.5 343.9,586.3 363.75,618.8 383.6,658.7 403.45,706.1" fill="none" stroke="#ff0000" stroke-width="1.7" stroke-dasharray="4.2 3.2"/>
<polyline points="124.75,503.5 144.6,503.6 164.45,504.1 184.3,505.1 204.15,507 224,510 243.85,514 263.7,519.5 283.55,526.6 303.4,537.4 323.25,549.2 343.1,565.4 362.95,584.1 382.8,605.8 402.65,632 422.5,664 442.35,706" fill="none" stroke="#ff0000" stroke-width="1.7" stroke-dasharray="4.2 3.2"/>
<polyline points="224,503.5 243.85,503.8 263.7,504.6 283.55,515.2 303.4,550 323.25,614.7 343.1,725.9" fill="none" stroke="#0000ff" stroke-width="1.95" stroke-linejoin="round"/>
<g fill="none" stroke="#0000ff" stroke-width="1.6">
<polygon points="62.3,501.3 68.1,501.3 65.2,507.8"/>
<polygon points="82.15,501.3 87.95,501.3 85.05,507.8"/>
<polygon points="102,501.3 107.8,501.3 104.9,507.8"/>
<polygon points="121.85,501.3 127.65,501.3 124.75,507.8"/>
<polygon points="141.7,501.3 147.5,501.3 144.6,507.8"/>
<polygon points="161.55,501.3 167.35,501.3 164.45,507.8"/>
<polygon points="181.4,501.3 187.2,501.3 184.3,507.8"/>
<polygon points="201.25,501.3 207.05,501.3 204.15,507.8"/>
<polygon points="221.1,501.3 226.9,501.3 224,507.8"/>
<polygon points="240.95,501.6 246.75,501.6 243.85,508.1"/>
<polygon points="260.8,502.4 266.6,502.4 263.7,508.9"/>
<polygon points="280.65,513 286.45,513 283.55,519.5"/>
<polygon points="300.5,547.8 306.3,547.8 303.4,554.3"/>
<polygon points="320.35,612.5 326.15,612.5 323.25,619"/>
<polygon points="340.2,723.7 346,723.7 343.1,730.2"/>
</g>
<polyline points="184.3,503.5 204.15,503.7 224,504.5 243.85,506 263.7,508.6 283.55,519.6 303.4,557.8 323.25,614.2 343.1,698.8" fill="none" stroke="#0000ff" stroke-width="1.95" stroke-linejoin="round"/>
<g fill="none" stroke="#0000ff" stroke-width="1.6">
<polygon points="62.3,505.7 68.1,505.7 65.2,499.2"/>
<polygon points="82.15,505.7 87.95,505.7 85.05,499.2"/>
<polygon points="102,505.7 107.8,505.7 104.9,499.2"/>
<polygon points="121.85,505.7 127.65,505.7 124.75,499.2"/>
<polygon points="141.7,505.7 147.5,505.7 144.6,499.2"/>
<polygon points="161.55,505.7 167.35,505.7 164.45,499.2"/>
<polygon points="181.4,505.7 187.2,505.7 184.3,499.2"/>
<polygon points="201.25,505.9 207.05,505.9 204.15,499.4"/>
<polygon points="221.1,506.7 226.9,506.7 224,500.2"/>
<polygon points="240.95,508.2 246.75,508.2 243.85,501.7"/>
<polygon points="260.8,510.8 266.6,510.8 263.7,504.3"/>
<polygon points="280.65,521.8 286.45,521.8 283.55,515.3"/>
<polygon points="300.5,560 306.3,560 303.4,553.5"/>
<polygon points="320.35,616.4 326.15,616.4 323.25,609.9"/>
<polygon points="340.2,701 346,701 343.1,694.5"/>
</g>
<polyline points="164.45,503.5 184.3,503.7 204.15,504.5 224,506 243.85,508.5 263.7,512 283.55,522.2 303.4,545.6 323.25,585.4 343.1,644.6 362.95,724.5" fill="none" stroke="#0000ff" stroke-width="1.95" stroke-linejoin="round"/>
<g fill="none" stroke="#0000ff" stroke-width="1.6">
<rect x="63.1" y="500.9" width="4.2" height="5.2"/>
<rect x="82.95" y="500.9" width="4.2" height="5.2"/>
<rect x="102.8" y="500.9" width="4.2" height="5.2"/>
<rect x="122.65" y="500.9" width="4.2" height="5.2"/>
<rect x="142.5" y="500.9" width="4.2" height="5.2"/>
<rect x="162.35" y="500.9" width="4.2" height="5.2"/>
<rect x="182.2" y="501.1" width="4.2" height="5.2"/>
<rect x="202.05" y="501.9" width="4.2" height="5.2"/>
<rect x="221.9" y="503.4" width="4.2" height="5.2"/>
<rect x="241.75" y="505.9" width="4.2" height="5.2"/>
<rect x="261.6" y="509.4" width="4.2" height="5.2"/>
<rect x="281.45" y="519.6" width="4.2" height="5.2"/>
<rect x="301.3" y="543" width="4.2" height="5.2"/>
<rect x="321.15" y="582.8" width="4.2" height="5.2"/>
<rect x="341" y="642" width="4.2" height="5.2"/>
<rect x="360.85" y="721.9" width="4.2" height="5.2"/>
</g>
<polyline points="144.6,503.5 164.45,503.7 184.3,504.3 204.15,505.6 224,508 243.85,511.5 263.7,516.6 283.55,524.6 303.4,541.5 323.25,560.5 343.1,586.3 362.95,618.8 382.8,658.7 402.65,706.1" fill="none" stroke="#0000ff" stroke-width="1.95" stroke-linejoin="round"/>
<g fill="none" stroke="#0000ff" stroke-width="1.6">
<path d="M62.4 503.5H68M65.2 500V507"/>
<path d="M82.25 503.5H87.85M85.05 500V507"/>
<path d="M102.1 503.5H107.7M104.9 500V507"/>
<path d="M121.95 503.5H127.55M124.75 500V507"/>
<path d="M141.8 503.5H147.4M144.6 500V507"/>
<path d="M161.65 503.7H167.25M164.45 500.2V507.2"/>
<path d="M181.5 504.3H187.1M184.3 500.8V507.8"/>
<path d="M201.35 505.6H206.95M204.15 502.1V509.1"/>
<path d="M221.2 508H226.8M224 504.5V511.5"/>
<path d="M241.05 511.5H246.65M243.85 508V515"/>
<path d="M260.9 516.6H266.5M263.7 513.1V520.1"/>
<path d="M280.75 524.6H286.35M283.55 521.1V528.1"/>
<path d="M300.6 541.5H306.2M303.4 538V545"/>
<path d="M320.45 560.5H326.05M323.25 557V564"/>
<path d="M340.3 586.3H345.9M343.1 582.8V589.8"/>
<path d="M360.15 618.8H365.75M362.95 615.3V622.3"/>
<path d="M380 658.7H385.6M382.8 655.2V662.2"/>
<path d="M399.85 706.1H405.45M402.65 702.6V709.6"/>
</g>
<polyline points="65.2,503.5 85.05,503.5 104.9,503.5 124.75,503.5 144.6,503.6 164.45,504.1 184.3,505.1 204.15,507 224,510 243.85,514 263.7,519.5 283.55,526.6 303.4,537.4 323.25,549.2 343.1,565.4 362.95,584.1 382.8,605.8 402.65,630.5 422.5,658.1 442.35,689.3" fill="none" stroke="#0000ff" stroke-width="1.95" stroke-linejoin="round"/>
<g fill="none" stroke="#0000ff" stroke-width="1.6">
<polygon points="65.2,500.2 64.37,501.85 62.71,501.85 63.54,503.5 62.71,505.15 64.37,505.15 65.2,506.8 66.03,505.15 67.69,505.15 66.86,503.5 67.69,501.85 66.03,501.85"/>
<polygon points="85.05,500.2 84.22,501.85 82.56,501.85 83.39,503.5 82.56,505.15 84.22,505.15 85.05,506.8 85.88,505.15 87.54,505.15 86.71,503.5 87.54,501.85 85.88,501.85"/>
<polygon points="104.9,500.2 104.07,501.85 102.41,501.85 103.24,503.5 102.41,505.15 104.07,505.15 104.9,506.8 105.73,505.15 107.39,505.15 106.56,503.5 107.39,501.85 105.73,501.85"/>
<polygon points="124.75,500.2 123.92,501.85 122.26,501.85 123.09,503.5 122.26,505.15 123.92,505.15 124.75,506.8 125.58,505.15 127.24,505.15 126.41,503.5 127.24,501.85 125.58,501.85"/>
<polygon points="144.6,500.3 143.77,501.95 142.11,501.95 142.94,503.6 142.11,505.25 143.77,505.25 144.6,506.9 145.43,505.25 147.09,505.25 146.26,503.6 147.09,501.95 145.43,501.95"/>
<polygon points="164.45,500.8 163.62,502.45 161.96,502.45 162.79,504.1 161.96,505.75 163.62,505.75 164.45,507.4 165.28,505.75 166.94,505.75 166.11,504.1 166.94,502.45 165.28,502.45"/>
<polygon points="184.3,501.8 183.47,503.45 181.81,503.45 182.64,505.1 181.81,506.75 183.47,506.75 184.3,508.4 185.13,506.75 186.79,506.75 185.96,505.1 186.79,503.45 185.13,503.45"/>
<polygon points="204.15,503.7 203.32,505.35 201.66,505.35 202.49,507 201.66,508.65 203.32,508.65 204.15,510.3 204.98,508.65 206.64,508.65 205.81,507 206.64,505.35 204.98,505.35"/>
<polygon points="224,506.7 223.17,508.35 221.51,508.35 222.34,510 221.51,511.65 223.17,511.65 224,513.3 224.83,511.65 226.49,511.65 225.66,510 226.49,508.35 224.83,508.35"/>
<polygon points="243.85,510.7 243.02,512.35 241.36,512.35 242.19,514 241.36,515.65 243.02,515.65 243.85,517.3 244.68,515.65 246.34,515.65 245.51,514 246.34,512.35 244.68,512.35"/>
<polygon points="263.7,516.2 262.87,517.85 261.21,517.85 262.04,519.5 261.21,521.15 262.87,521.15 263.7,522.8 264.53,521.15 266.19,521.15 265.36,519.5 266.19,517.85 264.53,517.85"/>
<polygon points="283.55,523.3 282.72,524.95 281.06,524.95 281.89,526.6 281.06,528.25 282.72,528.25 283.55,529.9 284.38,528.25 286.04,528.25 285.21,526.6 286.04,524.95 284.38,524.95"/>
<polygon points="303.4,534.1 302.57,535.75 300.91,535.75 301.74,537.4 300.91,539.05 302.57,539.05 303.4,540.7 304.23,539.05 305.89,539.05 305.06,537.4 305.89,535.75 304.23,535.75"/>
<polygon points="323.25,545.9 322.42,547.55 320.76,547.55 321.59,549.2 320.76,550.85 322.42,550.85 323.25,552.5 324.08,550.85 325.74,550.85 324.91,549.2 325.74,547.55 324.08,547.55"/>
<polygon points="343.1,562.1 342.27,563.75 340.61,563.75 341.44,565.4 340.61,567.05 342.27,567.05 343.1,568.7 343.93,567.05 345.59,567.05 344.76,565.4 345.59,563.75 343.93,563.75"/>
<polygon points="362.95,580.8 362.12,582.45 360.46,582.45 361.29,584.1 360.46,585.75 362.12,585.75 362.95,587.4 363.78,585.75 365.44,585.75 364.61,584.1 365.44,582.45 363.78,582.45"/>
<polygon points="382.8,602.5 381.97,604.15 380.31,604.15 381.14,605.8 380.31,607.45 381.97,607.45 382.8,609.1 383.63,607.45 385.29,607.45 384.46,605.8 385.29,604.15 383.63,604.15"/>
<polygon points="402.65,627.2 401.82,628.85 400.16,628.85 400.99,630.5 400.16,632.15 401.82,632.15 402.65,633.8 403.48,632.15 405.14,632.15 404.31,630.5 405.14,628.85 403.48,628.85"/>
<polygon points="422.5,654.8 421.67,656.45 420.01,656.45 420.84,658.1 420.01,659.75 421.67,659.75 422.5,661.4 423.33,659.75 424.99,659.75 424.16,658.1 424.99,656.45 423.33,656.45"/>
<polygon points="442.35,686 441.52,687.65 439.86,687.65 440.69,689.3 439.86,690.95 441.52,690.95 442.35,692.6 443.18,690.95 444.84,690.95 444.01,689.3 444.84,687.65 443.18,687.65"/>
</g>
</g>
<rect x="66.5" y="739.5" width="73" height="93" fill="#fff" stroke="#000" stroke-width="1.15"/>
<g filter="url(#bl)">
<g font-family="'Liberation Sans', sans-serif" font-size="6.2" fill="#000" stroke="#000" stroke-width="0.15">
<path d="M69.3 745.6H84.7" stroke="#ff0000" stroke-width="1.6" stroke-dasharray="3.9 2" fill="none"/>
<text transform="translate(87.2 747.5) scale(0.816 1)">TB = 6000 (AWGN)</text>
<path d="M69.3 754.62H84.7" stroke="#0000ff" stroke-width="1.8" fill="none"/>
<g fill="none" stroke="#0000ff" stroke-width="1.5"><polygon points="74.1,752.42 79.9,752.42 77,758.92"/></g>
<text transform="translate(87.2 756.52) scale(0.816 1)">TB = 6000 (estimated)</text>
<path d="M69.3 763.64H84.7" stroke="#ff0000" stroke-width="1.6" stroke-dasharray="3.9 2" fill="none"/>
<text transform="translate(87.2 765.54) scale(0.816 1)">TB = 4000 (AWGN)</text>
<path d="M69.3 772.67H84.7" stroke="#0000ff" stroke-width="1.8" fill="none"/>
<g fill="none" stroke="#0000ff" stroke-width="1.5"><polygon points="74.1,774.87 79.9,774.87 77,768.37"/></g>
<text transform="translate(87.2 774.57) scale(0.816 1)">TB = 4000 (estimated)</text>
<path d="M69.3 781.69H84.7" stroke="#ff0000" stroke-width="1.6" stroke-dasharray="3.9 2" fill="none"/>
<text transform="translate(87.2 783.59) scale(0.816 1)">TB = 2560 (AWGN)</text>
<path d="M69.3 790.71H84.7" stroke="#0000ff" stroke-width="1.8" fill="none"/>
<g fill="none" stroke="#0000ff" stroke-width="1.5"><rect x="74.9" y="788.11" width="4.2" height="5.2"/></g>
<text transform="translate(87.2 792.61) scale(0.816 1)">TB = 2560 (estimated)</text>
<path d="M69.3 799.73H84.7" stroke="#ff0000" stroke-width="1.6" stroke-dasharray="3.9 2" fill="none"/>
<text transform="translate(87.2 801.63) scale(0.816 1)">TB = 1024 (AWGN)</text>
<path d="M69.3 808.76H84.7" stroke="#0000ff" stroke-width="1.8" fill="none"/>
<g fill="none" stroke="#0000ff" stroke-width="1.5"><path d="M74.2 808.76H79.8M77 805.26V812.26"/></g>
<text transform="translate(87.2 810.66) scale(0.816 1)">TB = 1024 (estimated)</text>
<path d="M69.3 817.78H84.7" stroke="#ff0000" stroke-width="1.6" stroke-dasharray="3.9 2" fill="none"/>
<text transform="translate(87.2 819.68) scale(0.816 1)">TB = 512 (AWGN)</text>
<path d="M69.3 826.8H84.7" stroke="#0000ff" stroke-width="1.8" fill="none"/>
<g fill="none" stroke="#0000ff" stroke-width="1.5"><polygon points="77,823.5 76.17,825.15 74.51,825.15 75.34,826.8 74.51,828.45 76.17,828.45 77,830.1 77.83,828.45 79.49,828.45 78.66,826.8 79.49,825.15 77.83,825.15"/></g>
<text transform="translate(87.2 828.7) scale(0.816 1)">TB = 512 (estimated)</text>
</g>
</g>
</g>
<g>
<path d="M706.5 505V833.5M785.5 505V833.5M865.5 505V833.5M944.5 505V833.5" stroke="#000" stroke-opacity="0.42" stroke-width="1" stroke-dasharray="1 2" fill="none"/>
<path d="M628 618.5H1023.5M628 589.5H1023.5M628 569.5H1023.5M628 553.5H1023.5M628 540.5H1023.5M628 529.5H1023.5M628 519.5H1023.5M628 511.5H1023.5M628 783.5H1023.5M628 754.5H1023.5M628 734.5H1023.5M628 718.5H1023.5M628 705.5H1023.5M628 694.5H1023.5M628 684.5H1023.5M628 676.5H1023.5" stroke="#000" stroke-opacity="0.42" stroke-width="1" stroke-dasharray="1 1 1 1 1 2" fill="none"/>
<path d="M628 668.5H1023.5" stroke="#000" stroke-opacity="0.72" stroke-width="1" stroke-dasharray="1 1 1 1 1 2" fill="none"/>
<rect x="626.5" y="503.5" width="397" height="330" fill="none" stroke="#000" stroke-width="1.15"/>
<path d="M626.5 833.5v-6M626.5 503.5v6M706.5 833.5v-6M706.5 503.5v6M785.5 833.5v-6M785.5 503.5v6M865.5 833.5v-6M865.5 503.5v6M944.5 833.5v-6M944.5 503.5v6M1023.5 833.5v-6M1023.5 503.5v6M626.5 503.5h4.5M1023.5 503.5h-4.5M626.5 668.5h4.5M1023.5 668.5h-4.5M626.5 618.5h2.2M1023.5 618.5h-2.2M626.5 589.5h2.2M1023.5 589.5h-2.2M626.5 569.5h2.2M1023.5 569.5h-2.2M626.5 553.5h2.2M1023.5 553.5h-2.2M626.5 540.5h2.2M1023.5 540.5h-2.2M626.5 529.5h2.2M1023.5 529.5h-2.2M626.5 519.5h2.2M1023.5 519.5h-2.2M626.5 511.5h2.2M1023.5 511.5h-2.2M626.5 833.5h4.5M1023.5 833.5h-4.5M626.5 783.5h2.2M1023.5 783.5h-2.2M626.5 754.5h2.2M1023.5 754.5h-2.2M626.5 734.5h2.2M1023.5 734.5h-2.2M626.5 718.5h2.2M1023.5 718.5h-2.2M626.5 705.5h2.2M1023.5 705.5h-2.2M626.5 694.5h2.2M1023.5 694.5h-2.2M626.5 684.5h2.2M1023.5 684.5h-2.2M626.5 676.5h2.2M1023.5 676.5h-2.2" stroke="#000" stroke-width="1" fill="none"/>
<g filter="url(#bl)">
<g font-family="'Liberation Sans', sans-serif" font-size="6.2" fill="#000" stroke="#000" stroke-width="0.15" text-anchor="middle">
<text transform="translate(626.3 841.8) scale(0.84 1)">2</text>
<text transform="translate(705.7 841.8) scale(0.84 1)">2.5</text>
<text transform="translate(785.1 841.8) scale(0.84 1)">3</text>
<text transform="translate(864.5 841.8) scale(0.84 1)">3.5</text>
<text transform="translate(943.9 841.8) scale(0.84 1)">4</text>
<text transform="translate(1023.3 841.8) scale(0.84 1)">4.5</text>
<text transform="translate(824.5 848.6) scale(0.84 1)">SNR</text>
</g>
<g font-family="'Liberation Sans', sans-serif" fill="#000" stroke="#000" stroke-width="0.1">
<text x="621.9" y="506.1" font-size="5.4" text-anchor="end" textLength="5.6" lengthAdjust="spacingAndGlyphs">10</text>
<text x="622.1" y="502.3" font-size="3.6" textLength="2.2" lengthAdjust="spacingAndGlyphs">0</text>
<text x="621.9" y="671.1" font-size="5.4" text-anchor="end" textLength="5.6" lengthAdjust="spacingAndGlyphs">10</text>
<text x="622.1" y="667.3" font-size="3.6" textLength="3.8" lengthAdjust="spacingAndGlyphs">-1</text>
<text x="621.9" y="836.1" font-size="5.4" text-anchor="end" textLength="5.6" lengthAdjust="spacingAndGlyphs">10</text>
<text x="622.1" y="832.3" font-size="3.6" textLength="3.8" lengthAdjust="spacingAndGlyphs">-2</text>
<text transform="translate(611.5 668.5) rotate(-90)" font-size="5.6" text-anchor="middle" textLength="17" lengthAdjust="spacingAndGlyphs">BLER</text>
</g>
</g>
<g filter="url(#bl)">
<polyline points="818.06,503.5 833.94,503.9 849.82,506.3 865.7,522.8 881.58,556.2 897.46,631.9 913.34,755.8" fill="none" stroke="#ff0000" stroke-width="1.7" stroke-dasharray="4.2 3.2"/>
<polyline points="802.48,503.5 818.36,503.6 834.24,504.4 850.12,507.2 866,522.4 881.88,554.7 897.76,612.1 913.64,696.6" fill="none" stroke="#ff0000" stroke-width="1.7" stroke-dasharray="4.2 3.2"/>
<polyline points="801.08,503.5 816.96,503.8 832.84,505 848.72,508.5 864.6,521.4 880.48,545.2 896.36,581.7 912.24,636.4 928.12,710.8" fill="none" stroke="#ff0000" stroke-width="1.7" stroke-dasharray="4.2 3.2"/>
<polyline points="785,503.5 800.88,503.7 816.76,504.4 832.64,506.2 848.52,510.6 864.4,520.4 880.28,533.8 896.16,551.8 912.04,578.1 927.92,612.1 943.8,654 959.68,700" fill="none" stroke="#ff0000" stroke-width="1.7" stroke-dasharray="4.2 3.2"/>
<polyline points="770.42,503.5 786.3,503.7 802.18,504.2 818.06,505.4 833.94,508.2 849.82,513.5 865.7,520 881.58,526.6 897.46,536 913.34,547.6 929.22,563.5 945.1,582 960.98,604.8 976.86,626 992.74,652 1008.62,688" fill="none" stroke="#ff0000" stroke-width="1.7" stroke-dasharray="4.2 3.2"/>
<polyline points="817.46,503.5 833.34,503.9 849.22,506.3 865.1,522.8 880.98,556.2 896.86,631.9 912.74,755.8" fill="none" stroke="#0000ff" stroke-width="1.95" stroke-linejoin="round"/>
<g fill="none" stroke="#0000ff" stroke-width="1.6">
<polygon points="624,501.3 629.8,501.3 626.9,507.8"/>
<polygon points="639.88,501.3 645.68,501.3 642.78,507.8"/>
<polygon points="655.76,501.3 661.56,501.3 658.66,507.8"/>
<polygon points="671.64,501.3 677.44,501.3 674.54,507.8"/>
<polygon points="687.52,501.3 693.32,501.3 690.42,507.8"/>
<polygon points="703.4,501.3 709.2,501.3 706.3,507.8"/>
<polygon points="719.28,501.3 725.08,501.3 722.18,507.8"/>
<polygon points="735.16,501.3 740.96,501.3 738.06,507.8"/>
<polygon points="751.04,501.3 756.84,501.3 753.94,507.8"/>
<polygon points="766.92,501.3 772.72,501.3 769.82,507.8"/>
<polygon points="782.8,501.3 788.6,501.3 785.7,507.8"/>
<polygon points="798.68,501.3 804.48,501.3 801.58,507.8"/>
<polygon points="814.56,501.3 820.36,501.3 817.46,507.8"/>
<polygon points="830.44,501.7 836.24,501.7 833.34,508.2"/>
<polygon points="846.32,504.1 852.12,504.1 849.22,510.6"/>
<polygon points="862.2,520.6 868,520.6 865.1,527.1"/>
<polygon points="878.08,554 883.88,554 880.98,560.5"/>
<polygon points="893.96,629.7 899.76,629.7 896.86,636.2"/>
<polygon points="909.84,753.6 915.64,753.6 912.74,760.1"/>
</g>
<polyline points="801.58,503.5 817.46,503.6 833.34,504.4 849.22,507.2 865.1,522.4 880.98,554.7 896.86,612.1 912.74,696.6" fill="none" stroke="#0000ff" stroke-width="1.95" stroke-linejoin="round"/>
<g fill="none" stroke="#0000ff" stroke-width="1.6">
<polygon points="624,505.7 629.8,505.7 626.9,499.2"/>
<polygon points="639.88,505.7 645.68,505.7 642.78,499.2"/>
<polygon points="655.76,505.7 661.56,505.7 658.66,499.2"/>
<polygon points="671.64,505.7 677.44,505.7 674.54,499.2"/>
<polygon points="687.52,505.7 693.32,505.7 690.42,499.2"/>
<polygon points="703.4,505.7 709.2,505.7 706.3,499.2"/>
<polygon points="719.28,505.7 725.08,505.7 722.18,499.2"/>
<polygon points="735.16,505.7 740.96,505.7 738.06,499.2"/>
<polygon points="751.04,505.7 756.84,505.7 753.94,499.2"/>
<polygon points="766.92,505.7 772.72,505.7 769.82,499.2"/>
<polygon points="782.8,505.7 788.6,505.7 785.7,499.2"/>
<polygon points="798.68,505.7 804.48,505.7 801.58,499.2"/>
<polygon points="814.56,505.8 820.36,505.8 817.46,499.3"/>
<polygon points="830.44,506.6 836.24,506.6 833.34,500.1"/>
<polygon points="846.32,509.4 852.12,509.4 849.22,502.9"/>
<polygon points="862.2,524.6 868,524.6 865.1,518.1"/>
<polygon points="878.08,556.9 883.88,556.9 880.98,550.4"/>
<polygon points="893.96,614.3 899.76,614.3 896.86,607.8"/>
<polygon points="909.84,698.8 915.64,698.8 912.74,692.3"/>
</g>
<polyline points="801.58,503.5 817.46,503.8 833.34,505 849.22,508.5 865.1,521.4 880.98,545.2 896.86,581.7 912.74,636.4 928.62,710.8" fill="none" stroke="#0000ff" stroke-width="1.95" stroke-linejoin="round"/>
<g fill="none" stroke="#0000ff" stroke-width="1.6">
<rect x="624.8" y="500.9" width="4.2" height="5.2"/>
<rect x="640.68" y="500.9" width="4.2" height="5.2"/>
<rect x="656.56" y="500.9" width="4.2" height="5.2"/>
<rect x="672.44" y="500.9" width="4.2" height="5.2"/>
<rect x="688.32" y="500.9" width="4.2" height="5.2"/>
<rect x="704.2" y="500.9" width="4.2" height="5.2"/>
<rect x="720.08" y="500.9" width="4.2" height="5.2"/>
<rect x="735.96" y="500.9" width="4.2" height="5.2"/>
<rect x="751.84" y="500.9" width="4.2" height="5.2"/>
<rect x="767.72" y="500.9" width="4.2" height="5.2"/>
<rect x="783.6" y="500.9" width="4.2" height="5.2"/>
<rect x="799.48" y="500.9" width="4.2" height="5.2"/>
<rect x="815.36" y="501.2" width="4.2" height="5.2"/>
<rect x="831.24" y="502.4" width="4.2" height="5.2"/>
<rect x="847.12" y="505.9" width="4.2" height="5.2"/>
<rect x="863" y="518.8" width="4.2" height="5.2"/>
<rect x="878.88" y="542.6" width="4.2" height="5.2"/>
<rect x="894.76" y="579.1" width="4.2" height="5.2"/>
<rect x="910.64" y="633.8" width="4.2" height="5.2"/>
<rect x="926.52" y="708.2" width="4.2" height="5.2"/>
</g>
<polyline points="785.7,503.5 801.58,503.7 817.46,504.4 833.34,506.2 849.22,510.6 865.1,520.4 880.98,533.8 896.86,551.8 912.74,578.1 928.62,612.1 944.5,654 960.38,706.3" fill="none" stroke="#0000ff" stroke-width="1.95" stroke-linejoin="round"/>
<g fill="none" stroke="#0000ff" stroke-width="1.6">
<path d="M624.1 503.5H629.7M626.9 500V507"/>
<path d="M639.98 503.5H645.58M642.78 500V507"/>
<path d="M655.86 503.5H661.46M658.66 500V507"/>
<path d="M671.74 503.5H677.34M674.54 500V507"/>
<path d="M687.62 503.5H693.22M690.42 500V507"/>
<path d="M703.5 503.5H709.1M706.3 500V507"/>
<path d="M719.38 503.5H724.98M722.18 500V507"/>
<path d="M735.26 503.5H740.86M738.06 500V507"/>
<path d="M751.14 503.5H756.74M753.94 500V507"/>
<path d="M767.02 503.5H772.62M769.82 500V507"/>
<path d="M782.9 503.5H788.5M785.7 500V507"/>
<path d="M798.78 503.7H804.38M801.58 500.2V507.2"/>
<path d="M814.66 504.4H820.26M817.46 500.9V507.9"/>
<path d="M830.54 506.2H836.14M833.34 502.7V509.7"/>
<path d="M846.42 510.6H852.02M849.22 507.1V514.1"/>
<path d="M862.3 520.4H867.9M865.1 516.9V523.9"/>
<path d="M878.18 533.8H883.78M880.98 530.3V537.3"/>
<path d="M894.06 551.8H899.66M896.86 548.3V555.3"/>
<path d="M909.94 578.1H915.54M912.74 574.6V581.6"/>
<path d="M925.82 612.1H931.42M928.62 608.6V615.6"/>
<path d="M941.7 654H947.3M944.5 650.5V657.5"/>
<path d="M957.58 706.3H963.18M960.38 702.8V709.8"/>
</g>
<polyline points="626.9,503.5 642.78,503.5 658.66,503.5 674.54,503.5 690.42,503.5 706.3,503.5 722.18,503.5 738.06,503.5 753.94,503.5 769.82,503.5 785.7,503.7 801.58,504.2 817.46,505.4 833.34,508.2 849.22,513.5 865.1,520 880.98,526.6 896.86,536 912.74,547.6 928.62,563.5 944.5,582 960.38,604.8 976.26,631.3 992.14,661.6 1008.02,696.6" fill="none" stroke="#0000ff" stroke-width="1.95" stroke-linejoin="round"/>
<g fill="none" stroke="#0000ff" stroke-width="1.6">
<polygon points="626.9,500.2 626.07,501.85 624.41,501.85 625.24,503.5 624.41,505.15 626.07,505.15 626.9,506.8 627.73,505.15 629.39,505.15 628.56,503.5 629.39,501.85 627.73,501.85"/>
<polygon points="642.78,500.2 641.95,501.85 640.29,501.85 641.12,503.5 640.29,505.15 641.95,505.15 642.78,506.8 643.61,505.15 645.27,505.15 644.44,503.5 645.27,501.85 643.61,501.85"/>
<polygon points="658.66,500.2 657.83,501.85 656.17,501.85 657,503.5 656.17,505.15 657.83,505.15 658.66,506.8 659.49,505.15 661.15,505.15 660.32,503.5 661.15,501.85 659.49,501.85"/>
<polygon points="674.54,500.2 673.71,501.85 672.05,501.85 672.88,503.5 672.05,505.15 673.71,505.15 674.54,506.8 675.37,505.15 677.03,505.15 676.2,503.5 677.03,501.85 675.37,501.85"/>
<polygon points="690.42,500.2 689.59,501.85 687.93,501.85 688.76,503.5 687.93,505.15 689.59,505.15 690.42,506.8 691.25,505.15 692.91,505.15 692.08,503.5 692.91,501.85 691.25,501.85"/>
<polygon points="706.3,500.2 705.47,501.85 703.81,501.85 704.64,503.5 703.81,505.15 705.47,505.15 706.3,506.8 707.13,505.15 708.79,505.15 707.96,503.5 708.79,501.85 707.13,501.85"/>
<polygon points="722.18,500.2 721.35,501.85 719.69,501.85 720.52,503.5 719.69,505.15 721.35,505.15 722.18,506.8 723.01,505.15 724.67,505.15 723.84,503.5 724.67,501.85 723.01,501.85"/>
<polygon points="738.06,500.2 737.23,501.85 735.57,501.85 736.4,503.5 735.57,505.15 737.23,505.15 738.06,506.8 738.89,505.15 740.55,505.15 739.72,503.5 740.55,501.85 738.89,501.85"/>
<polygon points="753.94,500.2 753.11,501.85 751.45,501.85 752.28,503.5 751.45,505.15 753.11,505.15 753.94,506.8 754.77,505.15 756.43,505.15 755.6,503.5 756.43,501.85 754.77,501.85"/>
<polygon points="769.82,500.2 768.99,501.85 767.33,501.85 768.16,503.5 767.33,505.15 768.99,505.15 769.82,506.8 770.65,505.15 772.31,505.15 771.48,503.5 772.31,501.85 770.65,501.85"/>
<polygon points="785.7,500.4 784.87,502.05 783.21,502.05 784.04,503.7 783.21,505.35 784.87,505.35 785.7,507 786.53,505.35 788.19,505.35 787.36,503.7 788.19,502.05 786.53,502.05"/>
<polygon points="801.58,500.9 800.75,502.55 799.09,502.55 799.92,504.2 799.09,505.85 800.75,505.85 801.58,507.5 802.41,505.85 804.07,505.85 803.24,504.2 804.07,502.55 802.41,502.55"/>
<polygon points="817.46,502.1 816.63,503.75 814.97,503.75 815.8,505.4 814.97,507.05 816.63,507.05 817.46,508.7 818.29,507.05 819.95,507.05 819.12,505.4 819.95,503.75 818.29,503.75"/>
<polygon points="833.34,504.9 832.51,506.55 830.85,506.55 831.68,508.2 830.85,509.85 832.51,509.85 833.34,511.5 834.17,509.85 835.83,509.85 835,508.2 835.83,506.55 834.17,506.55"/>
<polygon points="849.22,510.2 848.39,511.85 846.73,511.85 847.56,513.5 846.73,515.15 848.39,515.15 849.22,516.8 850.05,515.15 851.71,515.15 850.88,513.5 851.71,511.85 850.05,511.85"/>
<polygon points="865.1,516.7 864.27,518.35 862.61,518.35 863.44,520 862.61,521.65 864.27,521.65 865.1,523.3 865.93,521.65 867.59,521.65 866.76,520 867.59,518.35 865.93,518.35"/>
<polygon points="880.98,523.3 880.15,524.95 878.49,524.95 879.32,526.6 878.49,528.25 880.15,528.25 880.98,529.9 881.81,528.25 883.47,528.25 882.64,526.6 883.47,524.95 881.81,524.95"/>
<polygon points="896.86,532.7 896.03,534.35 894.37,534.35 895.2,536 894.37,537.65 896.03,537.65 896.86,539.3 897.69,537.65 899.35,537.65 898.52,536 899.35,534.35 897.69,534.35"/>
<polygon points="912.74,544.3 911.91,545.95 910.25,545.95 911.08,547.6 910.25,549.25 911.91,549.25 912.74,550.9 913.57,549.25 915.23,549.25 914.4,547.6 915.23,545.95 913.57,545.95"/>
<polygon points="928.62,560.2 927.79,561.85 926.13,561.85 926.96,563.5 926.13,565.15 927.79,565.15 928.62,566.8 929.45,565.15 931.11,565.15 930.28,563.5 931.11,561.85 929.45,561.85"/>
<polygon points="944.5,578.7 943.67,580.35 942.01,580.35 942.84,582 942.01,583.65 943.67,583.65 944.5,585.3 945.33,583.65 946.99,583.65 946.16,582 946.99,580.35 945.33,580.35"/>
<polygon points="960.38,601.5 959.55,603.15 957.89,603.15 958.72,604.8 957.89,606.45 959.55,606.45 960.38,608.1 961.21,606.45 962.87,606.45 962.04,604.8 962.87,603.15 961.21,603.15"/>
<polygon points="976.26,628 975.43,629.65 973.77,629.65 974.6,631.3 973.77,632.95 975.43,632.95 976.26,634.6 977.09,632.95 978.75,632.95 977.92,631.3 978.75,629.65 977.09,629.65"/>
<polygon points="992.14,658.3 991.31,659.95 989.65,659.95 990.48,661.6 989.65,663.25 991.31,663.25 992.14,664.9 992.97,663.25 994.63,663.25 993.8,661.6 994.63,659.95 992.97,659.95"/>
<polygon points="1008.02,693.3 1007.19,694.95 1005.53,694.95 1006.36,696.6 1005.53,698.25 1007.19,698.25 1008.02,699.9 1008.85,698.25 1010.51,698.25 1009.68,696.6 1010.51,694.95 1008.85,694.95"/>
</g>
</g>
<rect x="628.5" y="739.5" width="72" height="92" fill="#fff" stroke="#000" stroke-width="1.15"/>
<g filter="url(#bl)">
<g font-family="'Liberation Sans', sans-serif" font-size="6.2" fill="#000" stroke="#000" stroke-width="0.15">
<path d="M631.3 744.9H646.7" stroke="#ff0000" stroke-width="1.6" stroke-dasharray="3.9 2" fill="none"/>
<text transform="translate(648.1 746.8) scale(0.821 1)">TB = 6000 (AWGN)</text>
<path d="M631.3 753.99H646.7" stroke="#0000ff" stroke-width="1.8" fill="none"/>
<g fill="none" stroke="#0000ff" stroke-width="1.5"><polygon points="636.1,751.79 641.9,751.79 639,758.29"/></g>
<text transform="translate(648.1 755.89) scale(0.821 1)">TB = 6000 (estimated)</text>
<path d="M631.3 763.08H646.7" stroke="#ff0000" stroke-width="1.6" stroke-dasharray="3.9 2" fill="none"/>
<text transform="translate(648.1 764.98) scale(0.821 1)">TB = 4000 (AWGN)</text>
<path d="M631.3 772.17H646.7" stroke="#0000ff" stroke-width="1.8" fill="none"/>
<g fill="none" stroke="#0000ff" stroke-width="1.5"><polygon points="636.1,774.37 641.9,774.37 639,767.87"/></g>
<text transform="translate(648.1 774.07) scale(0.821 1)">TB = 4000 (estimated)</text>
<path d="M631.3 781.26H646.7" stroke="#ff0000" stroke-width="1.6" stroke-dasharray="3.9 2" fill="none"/>
<text transform="translate(648.1 783.16) scale(0.821 1)">TB = 2560 (AWGN)</text>
<path d="M631.3 790.34H646.7" stroke="#0000ff" stroke-width="1.8" fill="none"/>
<g fill="none" stroke="#0000ff" stroke-width="1.5"><rect x="636.9" y="787.74" width="4.2" height="5.2"/></g>
<text transform="translate(648.1 792.24) scale(0.821 1)">TB = 2560 (estimated)</text>
<path d="M631.3 799.43H646.7" stroke="#ff0000" stroke-width="1.6" stroke-dasharray="3.9 2" fill="none"/>
<text transform="translate(648.1 801.33) scale(0.821 1)">TB = 1024 (AWGN)</text>
<path d="M631.3 808.52H646.7" stroke="#0000ff" stroke-width="1.8" fill="none"/>
<g fill="none" stroke="#0000ff" stroke-width="1.5"><path d="M636.2 808.52H641.8M639 805.02V812.02"/></g>
<text transform="translate(648.1 810.42) scale(0.821 1)">TB = 1024 (estimated)</text>
<path d="M631.3 817.61H646.7" stroke="#ff0000" stroke-width="1.6" stroke-dasharray="3.9 2" fill="none"/>
<text transform="translate(648.1 819.51) scale(0.821 1)">TB = 512 (AWGN)</text>
<path d="M631.3 826.7H646.7" stroke="#0000ff" stroke-width="1.8" fill="none"/>
<g fill="none" stroke="#0000ff" stroke-width="1.5"><polygon points="639,823.4 638.17,825.05 636.51,825.05 637.34,826.7 636.51,828.35 638.17,828.35 639,830 639.83,828.35 641.49,828.35 640.66,826.7 641.49,825.05 639.83,825.05"/></g>
<text transform="translate(648.1 828.6) scale(0.821 1)">TB = 512 (estimated)</text>
</g>
</g>
</g>
<g font-family="'Liberation Serif', serif" font-size="21.1" fill="#000" filter="url(#id)">
<text x="200" y="437.2">a) MCS9</text>
<text x="796.1" y="432.2">b) MCS10</text>
<text x="189.5" y="914.1">c) MCS11</text>
<text x="780.7" y="914.1">d) MCS12</text>
</g>
</svg></body></html>
